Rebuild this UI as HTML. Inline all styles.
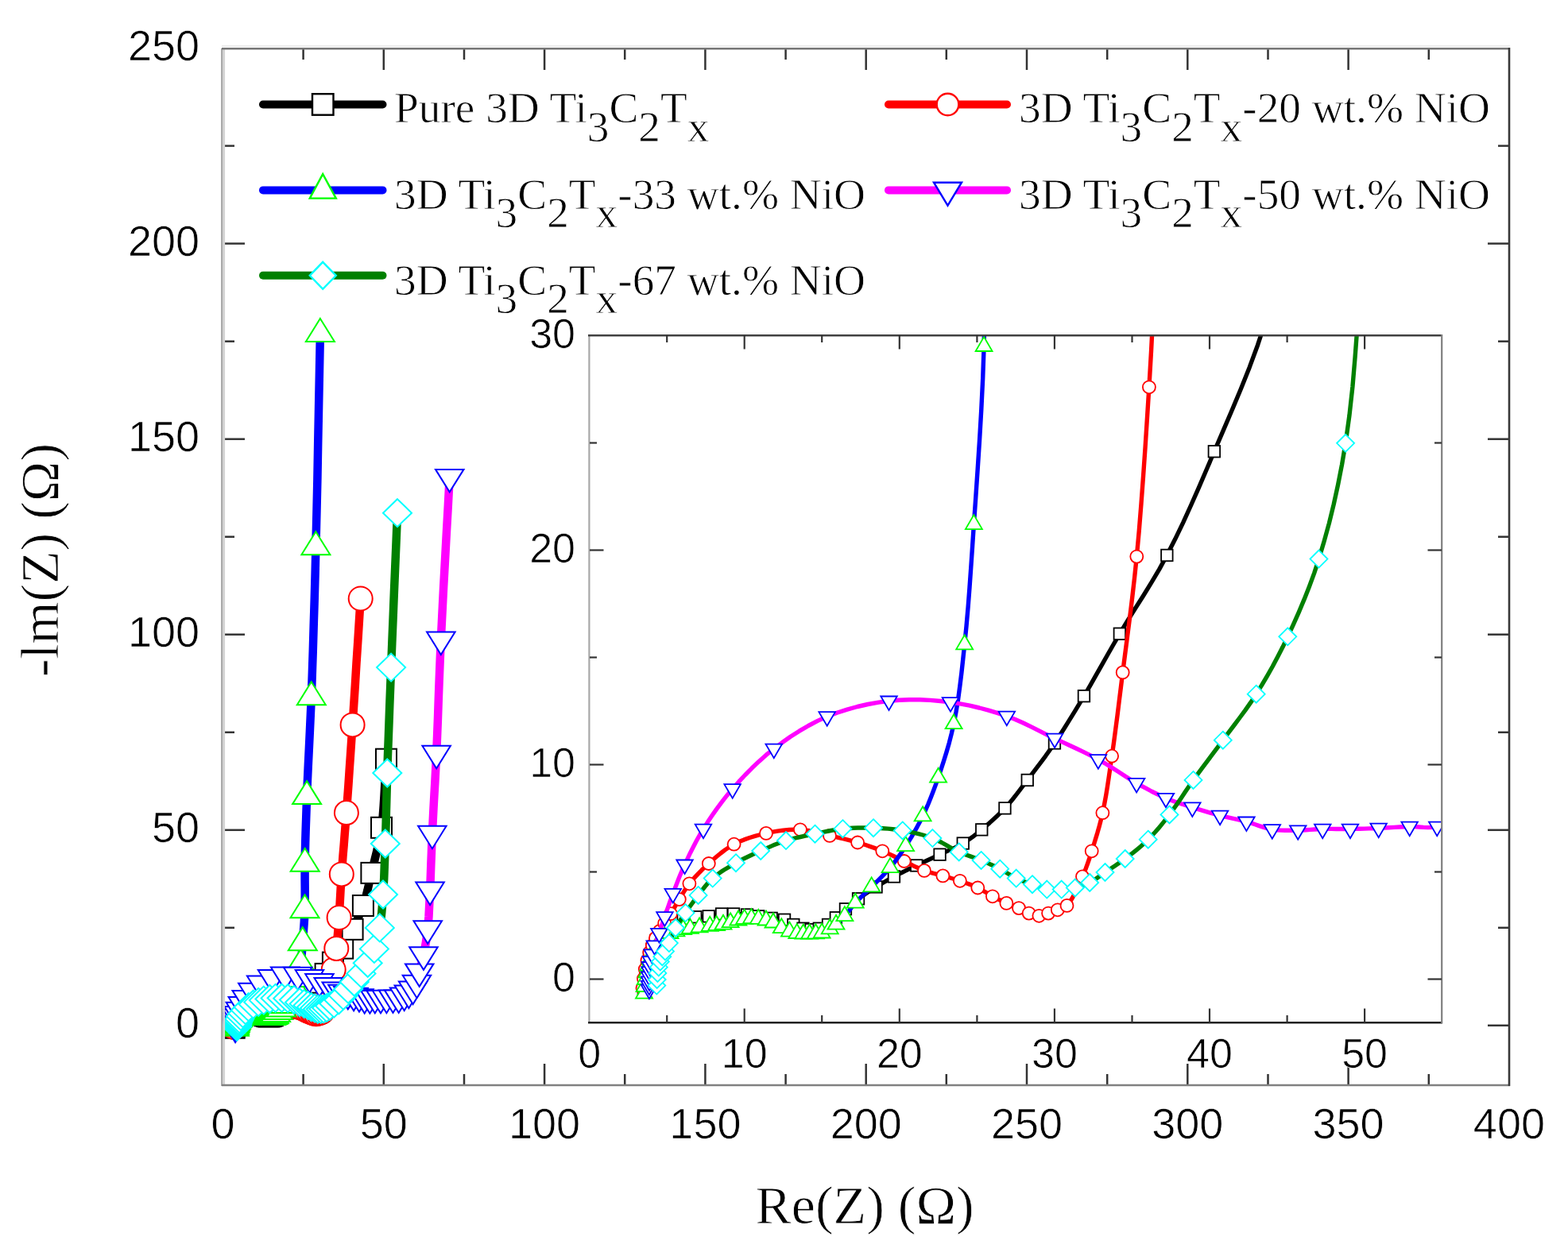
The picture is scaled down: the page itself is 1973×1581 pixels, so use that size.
<!DOCTYPE html>
<html><head><meta charset="utf-8"><title>Nyquist plot</title>
<style>html,body{margin:0;padding:0;background:#fff;}svg{display:block;}
text.s{font-family:"Liberation Sans",Arial,sans-serif;fill:#000;stroke:#fff;stroke-width:0.7px;}
text.r{font-family:"Liberation Serif","Times New Roman",serif;fill:#000;stroke:#fff;stroke-width:0.8px;}</style>
</head><body>
<svg width="1973" height="1581" viewBox="0 0 1973 1581">
<rect width="1973" height="1581" fill="#fff"/>
<defs><clipPath id="cm"><rect x="280.5" y="61.0" width="1618.5" height="1305.0"/></clipPath>
<clipPath id="ci"><rect x="741.4" y="422.2" width="1072.6" height="865.0"/></clipPath></defs>
<line x1="381.6" y1="1366" x2="381.6" y2="1352" stroke="#333" stroke-width="2.5"/>
<line x1="381.6" y1="61" x2="381.6" y2="75" stroke="#333" stroke-width="2.5"/>
<line x1="482.8" y1="1366" x2="482.8" y2="1339" stroke="#333" stroke-width="2.5"/>
<line x1="482.8" y1="61" x2="482.8" y2="88" stroke="#333" stroke-width="2.5"/>
<line x1="584" y1="1366" x2="584" y2="1352" stroke="#333" stroke-width="2.5"/>
<line x1="584" y1="61" x2="584" y2="75" stroke="#333" stroke-width="2.5"/>
<line x1="685.1" y1="1366" x2="685.1" y2="1339" stroke="#333" stroke-width="2.5"/>
<line x1="685.1" y1="61" x2="685.1" y2="88" stroke="#333" stroke-width="2.5"/>
<line x1="786.2" y1="1366" x2="786.2" y2="1352" stroke="#333" stroke-width="2.5"/>
<line x1="786.2" y1="61" x2="786.2" y2="75" stroke="#333" stroke-width="2.5"/>
<line x1="887.4" y1="1366" x2="887.4" y2="1339" stroke="#333" stroke-width="2.5"/>
<line x1="887.4" y1="61" x2="887.4" y2="88" stroke="#333" stroke-width="2.5"/>
<line x1="988.6" y1="1366" x2="988.6" y2="1352" stroke="#333" stroke-width="2.5"/>
<line x1="988.6" y1="61" x2="988.6" y2="75" stroke="#333" stroke-width="2.5"/>
<line x1="1089.7" y1="1366" x2="1089.7" y2="1339" stroke="#333" stroke-width="2.5"/>
<line x1="1089.7" y1="61" x2="1089.7" y2="88" stroke="#333" stroke-width="2.5"/>
<line x1="1190.8" y1="1366" x2="1190.8" y2="1352" stroke="#333" stroke-width="2.5"/>
<line x1="1190.8" y1="61" x2="1190.8" y2="75" stroke="#333" stroke-width="2.5"/>
<line x1="1292" y1="1366" x2="1292" y2="1339" stroke="#333" stroke-width="2.5"/>
<line x1="1292" y1="61" x2="1292" y2="88" stroke="#333" stroke-width="2.5"/>
<line x1="1393.2" y1="1366" x2="1393.2" y2="1352" stroke="#333" stroke-width="2.5"/>
<line x1="1393.2" y1="61" x2="1393.2" y2="75" stroke="#333" stroke-width="2.5"/>
<line x1="1494.3" y1="1366" x2="1494.3" y2="1339" stroke="#333" stroke-width="2.5"/>
<line x1="1494.3" y1="61" x2="1494.3" y2="88" stroke="#333" stroke-width="2.5"/>
<line x1="1595.5" y1="1366" x2="1595.5" y2="1352" stroke="#333" stroke-width="2.5"/>
<line x1="1595.5" y1="61" x2="1595.5" y2="75" stroke="#333" stroke-width="2.5"/>
<line x1="1696.6" y1="1366" x2="1696.6" y2="1339" stroke="#333" stroke-width="2.5"/>
<line x1="1696.6" y1="61" x2="1696.6" y2="88" stroke="#333" stroke-width="2.5"/>
<line x1="1797.8" y1="1366" x2="1797.8" y2="1352" stroke="#333" stroke-width="2.5"/>
<line x1="1797.8" y1="61" x2="1797.8" y2="75" stroke="#333" stroke-width="2.5"/>
<line x1="281" y1="1290.8" x2="308" y2="1290.8" stroke="#333" stroke-width="2.5"/>
<line x1="1899" y1="1290.8" x2="1872" y2="1290.8" stroke="#333" stroke-width="2.5"/>
<line x1="281" y1="1167.8" x2="295" y2="1167.8" stroke="#333" stroke-width="2.5"/>
<line x1="1899" y1="1167.8" x2="1885" y2="1167.8" stroke="#333" stroke-width="2.5"/>
<line x1="281" y1="1044.8" x2="308" y2="1044.8" stroke="#333" stroke-width="2.5"/>
<line x1="1899" y1="1044.8" x2="1872" y2="1044.8" stroke="#333" stroke-width="2.5"/>
<line x1="281" y1="921.8" x2="295" y2="921.8" stroke="#333" stroke-width="2.5"/>
<line x1="1899" y1="921.8" x2="1885" y2="921.8" stroke="#333" stroke-width="2.5"/>
<line x1="281" y1="798.7" x2="308" y2="798.7" stroke="#333" stroke-width="2.5"/>
<line x1="1899" y1="798.7" x2="1872" y2="798.7" stroke="#333" stroke-width="2.5"/>
<line x1="281" y1="675.7" x2="295" y2="675.7" stroke="#333" stroke-width="2.5"/>
<line x1="1899" y1="675.7" x2="1885" y2="675.7" stroke="#333" stroke-width="2.5"/>
<line x1="281" y1="552.7" x2="308" y2="552.7" stroke="#333" stroke-width="2.5"/>
<line x1="1899" y1="552.7" x2="1872" y2="552.7" stroke="#333" stroke-width="2.5"/>
<line x1="281" y1="429.7" x2="295" y2="429.7" stroke="#333" stroke-width="2.5"/>
<line x1="1899" y1="429.7" x2="1885" y2="429.7" stroke="#333" stroke-width="2.5"/>
<line x1="281" y1="306.6" x2="308" y2="306.6" stroke="#333" stroke-width="2.5"/>
<line x1="1899" y1="306.6" x2="1872" y2="306.6" stroke="#333" stroke-width="2.5"/>
<line x1="281" y1="183.6" x2="295" y2="183.6" stroke="#333" stroke-width="2.5"/>
<line x1="1899" y1="183.6" x2="1885" y2="183.6" stroke="#333" stroke-width="2.5"/>
<g clip-path="url(#cm)">
<path d="M294.7 1293.8 L294.9 1291.8 L295.1 1289.9 L295.6 1287.9 L296.1 1285.9 L296.9 1284 L297.9 1282 L299.2 1280.3 L300.7 1278.8 L302.8 1277.7 L305 1277 L308.2 1276.6 L311.6 1276.4 L315 1275.9 L318.1 1275.9 L321.6 1276.1 L324.6 1276.4 L328 1276.9 L331.4 1277.2 L333.7 1278.4 L336.3 1279.2 L338.4 1279.5 L340.5 1279.2 L342.8 1278.4 L344.8 1276.8 L347.3 1274.8 L350.7 1272.4 L355.4 1269.7 L360 1267.3 L362.9 1266 L365.9 1264.8 L368.9 1263.5 L371.9 1262.3 L375 1261 L378 1259.7 L382.9 1256.6 L385.9 1254.2 L388.9 1251.6 L391.9 1248.5 L394.8 1245.2 L397.1 1242.5 L399.5 1239.7 L401.9 1236.7 L403.8 1234.2 L405.7 1231.5 L407.6 1228.8 L409.6 1225.9 L411.4 1223.2 L413.2 1220.4 L415 1217.5 L416.9 1214.6 L418.9 1211.6 L420.8 1208.8 L422.9 1205.9 L425 1202.9 L427.1 1199.9 L429.2 1196.8 L431.2 1193.6 L433.4 1189.9 L435.4 1186.1 L437.5 1182.1 L439.5 1178.1 L441.5 1174 L443.6 1169.8 L445.8 1165.1 L448.2 1160.4 L450.5 1155.5 L452.8 1150.5 L454.9 1145.4 L456.9 1140 L458.9 1133.7 L460.8 1127.1 L462.5 1120.4 L464.1 1113.4 L465.7 1106.3 L467.4 1098.9 L469.6 1090.1 L471.8 1081.1 L474.1 1071.8 L476.3 1062.2 L478.3 1052.2 L480 1041.8 L481.6 1028.6 L482.7 1014.5 L483.6 999.9 L484.4 985.1 L485.1 970.3 L486 955.7" fill="none" stroke="#000000" stroke-width="10.5" stroke-linejoin="round" stroke-linecap="round"/>
<rect x="281.7" y="1280.8" width="26" height="26" fill="#fff" stroke="#000000" stroke-width="2.0"/>
<rect x="281.9" y="1278.8" width="26" height="26" fill="#fff" stroke="#000000" stroke-width="2.0"/>
<rect x="282.1" y="1276.9" width="26" height="26" fill="#fff" stroke="#000000" stroke-width="2.0"/>
<rect x="282.6" y="1274.9" width="26" height="26" fill="#fff" stroke="#000000" stroke-width="2.0"/>
<rect x="283.1" y="1272.9" width="26" height="26" fill="#fff" stroke="#000000" stroke-width="2.0"/>
<rect x="283.9" y="1271" width="26" height="26" fill="#fff" stroke="#000000" stroke-width="2.0"/>
<rect x="284.9" y="1269" width="26" height="26" fill="#fff" stroke="#000000" stroke-width="2.0"/>
<rect x="286.2" y="1267.3" width="26" height="26" fill="#fff" stroke="#000000" stroke-width="2.0"/>
<rect x="287.7" y="1265.8" width="26" height="26" fill="#fff" stroke="#000000" stroke-width="2.0"/>
<rect x="289.8" y="1264.7" width="26" height="26" fill="#fff" stroke="#000000" stroke-width="2.0"/>
<rect x="292" y="1264" width="26" height="26" fill="#fff" stroke="#000000" stroke-width="2.0"/>
<rect x="295.2" y="1263.6" width="26" height="26" fill="#fff" stroke="#000000" stroke-width="2.0"/>
<rect x="298.6" y="1263.4" width="26" height="26" fill="#fff" stroke="#000000" stroke-width="2.0"/>
<rect x="302" y="1262.9" width="26" height="26" fill="#fff" stroke="#000000" stroke-width="2.0"/>
<rect x="305.1" y="1262.9" width="26" height="26" fill="#fff" stroke="#000000" stroke-width="2.0"/>
<rect x="308.6" y="1263.1" width="26" height="26" fill="#fff" stroke="#000000" stroke-width="2.0"/>
<rect x="311.6" y="1263.4" width="26" height="26" fill="#fff" stroke="#000000" stroke-width="2.0"/>
<rect x="315" y="1263.9" width="26" height="26" fill="#fff" stroke="#000000" stroke-width="2.0"/>
<rect x="318.4" y="1264.2" width="26" height="26" fill="#fff" stroke="#000000" stroke-width="2.0"/>
<rect x="320.7" y="1265.4" width="26" height="26" fill="#fff" stroke="#000000" stroke-width="2.0"/>
<rect x="323.3" y="1266.2" width="26" height="26" fill="#fff" stroke="#000000" stroke-width="2.0"/>
<rect x="325.4" y="1266.5" width="26" height="26" fill="#fff" stroke="#000000" stroke-width="2.0"/>
<rect x="327.5" y="1266.2" width="26" height="26" fill="#fff" stroke="#000000" stroke-width="2.0"/>
<rect x="329.8" y="1265.4" width="26" height="26" fill="#fff" stroke="#000000" stroke-width="2.0"/>
<rect x="331.8" y="1263.8" width="26" height="26" fill="#fff" stroke="#000000" stroke-width="2.0"/>
<rect x="334.3" y="1261.8" width="26" height="26" fill="#fff" stroke="#000000" stroke-width="2.0"/>
<rect x="337.7" y="1259.4" width="26" height="26" fill="#fff" stroke="#000000" stroke-width="2.0"/>
<rect x="342.4" y="1256.7" width="26" height="26" fill="#fff" stroke="#000000" stroke-width="2.0"/>
<rect x="347" y="1254.3" width="26" height="26" fill="#fff" stroke="#000000" stroke-width="2.0"/>
<rect x="352.9" y="1251.8" width="26" height="26" fill="#fff" stroke="#000000" stroke-width="2.0"/>
<rect x="358.9" y="1249.3" width="26" height="26" fill="#fff" stroke="#000000" stroke-width="2.0"/>
<rect x="365" y="1246.7" width="26" height="26" fill="#fff" stroke="#000000" stroke-width="2.0"/>
<rect x="369.9" y="1243.6" width="26" height="26" fill="#fff" stroke="#000000" stroke-width="2.0"/>
<rect x="375.9" y="1238.6" width="26" height="26" fill="#fff" stroke="#000000" stroke-width="2.0"/>
<rect x="381.8" y="1232.2" width="26" height="26" fill="#fff" stroke="#000000" stroke-width="2.0"/>
<rect x="388.9" y="1223.7" width="26" height="26" fill="#fff" stroke="#000000" stroke-width="2.0"/>
<rect x="396.6" y="1212.9" width="26" height="26" fill="#fff" stroke="#000000" stroke-width="2.0"/>
<rect x="405.9" y="1198.6" width="26" height="26" fill="#fff" stroke="#000000" stroke-width="2.0"/>
<rect x="418.2" y="1180.6" width="26" height="26" fill="#fff" stroke="#000000" stroke-width="2.0"/>
<rect x="430.6" y="1156.8" width="26" height="26" fill="#fff" stroke="#000000" stroke-width="2.0"/>
<rect x="443.9" y="1127" width="26" height="26" fill="#fff" stroke="#000000" stroke-width="2.0"/>
<rect x="454.4" y="1085.9" width="26" height="26" fill="#fff" stroke="#000000" stroke-width="2.0"/>
<rect x="467" y="1028.8" width="26" height="26" fill="#fff" stroke="#000000" stroke-width="2.0"/>
<rect x="473" y="942.7" width="26" height="26" fill="#fff" stroke="#000000" stroke-width="2.0"/>
<path d="M294.4 1293 L294.7 1290.8 L295.1 1288.6 L295.6 1286.6 L296.2 1284.7 L296.9 1283.1 L297.8 1281.5 L298.8 1279.8 L300.1 1278.1 L301.7 1275.8 L304 1272.5 L306.6 1269 L308.9 1266.6 L311.7 1264.3 L314.8 1262 L318.2 1259.9 L322.3 1258.4 L326.6 1257.4 L331.1 1256.7 L335.5 1256.6 L339.4 1257.1 L343.2 1257.9 L346.9 1258.7 L350.5 1259.5 L353.8 1260.4 L357 1261.5 L359.8 1262.6 L362.6 1263.8 L367.9 1265.9 L372.7 1267.1 L377.2 1268.3 L381.9 1269.9 L385.7 1271.9 L389.3 1273.4 L392.6 1274.6 L395.2 1275.7 L397.8 1276.3 L400.3 1275.7 L402.7 1275 L405.1 1274 L407.2 1271 L409.2 1267.3 L410.5 1264.5 L411.6 1261.5 L412.6 1258.8 L413.5 1255.8 L414.4 1252.7 L415.1 1249.7 L415.7 1246.5 L416.3 1243.2 L416.9 1239.7 L417.3 1236.7 L417.8 1233.7 L418.3 1230.5 L418.7 1227.2 L419.2 1223.9 L419.7 1220.5 L420.3 1216.4 L420.9 1212.1 L421.5 1207.8 L422.2 1203.3 L422.8 1198.7 L423.3 1193.9 L423.9 1187.9 L424.5 1181.7 L425 1175.3 L425.6 1168.8 L426.1 1162 L426.6 1155 L427.1 1146.6 L427.6 1137.9 L428.1 1128.9 L428.6 1119.7 L429.2 1110.2 L429.8 1100.4 L430.7 1088.5 L431.6 1076.2 L432.7 1063.5 L433.7 1050.4 L434.8 1037 L435.9 1023.1 L437.1 1006.1 L438.4 988.5 L439.6 970.3 L440.9 951.6 L442.2 932.3 L443.6 912.4 L445.2 887.6 L446.9 861.6 L448.5 834.7 L450.3 807.5 L452 780.3 L453.7 753.5" fill="none" stroke="#ff0000" stroke-width="10.5" stroke-linejoin="round" stroke-linecap="round"/>
<circle cx="294.4" cy="1293" r="15" fill="#fff" stroke="#ff0000" stroke-width="2.0"/>
<circle cx="294.7" cy="1290.8" r="15" fill="#fff" stroke="#ff0000" stroke-width="2.0"/>
<circle cx="295.1" cy="1288.6" r="15" fill="#fff" stroke="#ff0000" stroke-width="2.0"/>
<circle cx="295.6" cy="1286.6" r="15" fill="#fff" stroke="#ff0000" stroke-width="2.0"/>
<circle cx="296.2" cy="1284.7" r="15" fill="#fff" stroke="#ff0000" stroke-width="2.0"/>
<circle cx="296.9" cy="1283.1" r="15" fill="#fff" stroke="#ff0000" stroke-width="2.0"/>
<circle cx="297.8" cy="1281.5" r="15" fill="#fff" stroke="#ff0000" stroke-width="2.0"/>
<circle cx="298.8" cy="1279.8" r="15" fill="#fff" stroke="#ff0000" stroke-width="2.0"/>
<circle cx="300.1" cy="1278.1" r="15" fill="#fff" stroke="#ff0000" stroke-width="2.0"/>
<circle cx="301.7" cy="1275.8" r="15" fill="#fff" stroke="#ff0000" stroke-width="2.0"/>
<circle cx="304" cy="1272.5" r="15" fill="#fff" stroke="#ff0000" stroke-width="2.0"/>
<circle cx="306.6" cy="1269" r="15" fill="#fff" stroke="#ff0000" stroke-width="2.0"/>
<circle cx="311.7" cy="1264.3" r="15" fill="#fff" stroke="#ff0000" stroke-width="2.0"/>
<circle cx="318.2" cy="1259.9" r="15" fill="#fff" stroke="#ff0000" stroke-width="2.0"/>
<circle cx="326.6" cy="1257.4" r="15" fill="#fff" stroke="#ff0000" stroke-width="2.0"/>
<circle cx="335.5" cy="1256.6" r="15" fill="#fff" stroke="#ff0000" stroke-width="2.0"/>
<circle cx="343.2" cy="1257.9" r="15" fill="#fff" stroke="#ff0000" stroke-width="2.0"/>
<circle cx="350.5" cy="1259.5" r="15" fill="#fff" stroke="#ff0000" stroke-width="2.0"/>
<circle cx="357" cy="1261.5" r="15" fill="#fff" stroke="#ff0000" stroke-width="2.0"/>
<circle cx="362.6" cy="1263.8" r="15" fill="#fff" stroke="#ff0000" stroke-width="2.0"/>
<circle cx="367.9" cy="1265.9" r="15" fill="#fff" stroke="#ff0000" stroke-width="2.0"/>
<circle cx="372.7" cy="1267.1" r="15" fill="#fff" stroke="#ff0000" stroke-width="2.0"/>
<circle cx="377.2" cy="1268.3" r="15" fill="#fff" stroke="#ff0000" stroke-width="2.0"/>
<circle cx="381.9" cy="1269.9" r="15" fill="#fff" stroke="#ff0000" stroke-width="2.0"/>
<circle cx="385.7" cy="1271.9" r="15" fill="#fff" stroke="#ff0000" stroke-width="2.0"/>
<circle cx="389.3" cy="1273.4" r="15" fill="#fff" stroke="#ff0000" stroke-width="2.0"/>
<circle cx="392.6" cy="1274.6" r="15" fill="#fff" stroke="#ff0000" stroke-width="2.0"/>
<circle cx="395.2" cy="1275.7" r="15" fill="#fff" stroke="#ff0000" stroke-width="2.0"/>
<circle cx="397.8" cy="1276.3" r="15" fill="#fff" stroke="#ff0000" stroke-width="2.0"/>
<circle cx="400.3" cy="1275.7" r="15" fill="#fff" stroke="#ff0000" stroke-width="2.0"/>
<circle cx="402.7" cy="1275" r="15" fill="#fff" stroke="#ff0000" stroke-width="2.0"/>
<circle cx="405.1" cy="1274" r="15" fill="#fff" stroke="#ff0000" stroke-width="2.0"/>
<circle cx="409.2" cy="1267.3" r="15" fill="#fff" stroke="#ff0000" stroke-width="2.0"/>
<circle cx="411.6" cy="1261.5" r="15" fill="#fff" stroke="#ff0000" stroke-width="2.0"/>
<circle cx="414.4" cy="1252.7" r="15" fill="#fff" stroke="#ff0000" stroke-width="2.0"/>
<circle cx="416.9" cy="1239.7" r="15" fill="#fff" stroke="#ff0000" stroke-width="2.0"/>
<circle cx="419.7" cy="1220.5" r="15" fill="#fff" stroke="#ff0000" stroke-width="2.0"/>
<circle cx="423.3" cy="1193.9" r="15" fill="#fff" stroke="#ff0000" stroke-width="2.0"/>
<circle cx="426.6" cy="1155" r="15" fill="#fff" stroke="#ff0000" stroke-width="2.0"/>
<circle cx="429.8" cy="1100.4" r="15" fill="#fff" stroke="#ff0000" stroke-width="2.0"/>
<circle cx="435.9" cy="1023.1" r="15" fill="#fff" stroke="#ff0000" stroke-width="2.0"/>
<circle cx="443.6" cy="912.4" r="15" fill="#fff" stroke="#ff0000" stroke-width="2.0"/>
<circle cx="453.7" cy="753.5" r="15" fill="#fff" stroke="#ff0000" stroke-width="2.0"/>
<path d="M294.8 1294.1 L294.9 1292.6 L295.1 1290.9 L295.5 1289.4 L295.9 1287.8 L296.4 1286.3 L297.1 1284.8 L297.9 1283.5 L298.9 1282.2 L300.1 1281.2 L301.5 1280.4 L303.2 1279.9 L305 1279.5 L306.8 1279.2 L309.2 1279 L311.9 1278.7 L313.7 1278.5 L315.4 1278.3 L317.3 1277.9 L319.3 1277.4 L321 1277.1 L322.8 1276.9 L324.6 1277.1 L326.6 1277.4 L328.5 1277.9 L330.6 1279.1 L332.7 1279.9 L334.7 1280.4 L336.3 1280.5 L338 1280.5 L339.6 1280.4 L341.1 1280.3 L343.3 1279.3 L344.9 1278.3 L347.1 1276.4 L349.9 1273.4 L354.1 1269.7 L356.6 1267.5 L359 1265.3 L361.1 1262.9 L363 1260.3 L365.3 1257.1 L367.5 1253.5 L368.9 1250.7 L370.3 1247.7 L371.5 1244.6 L372.6 1241.7 L373.7 1238.7 L374.7 1235.6 L375.6 1232.3 L376.2 1229.5 L376.7 1226.6 L377.2 1223.7 L377.6 1220.6 L378 1217.4 L378.4 1214.1 L378.9 1209.9 L379.3 1205.5 L379.7 1201 L380.1 1196.3 L380.5 1191.5 L380.8 1186.5 L381.3 1180.3 L381.8 1173.8 L382.3 1167.1 L382.8 1160.1 L383.2 1153 L383.5 1145.7 L383.7 1136.7 L383.7 1127.3 L383.7 1117.7 L383.6 1107.8 L383.6 1097.6 L383.7 1087.1 L383.9 1074.1 L384.2 1060.7 L384.6 1046.8 L385.1 1032.5 L385.6 1017.7 L386.1 1002.5 L386.9 983.3 L387.8 963.6 L388.8 943.1 L389.8 922 L390.8 900.1 L391.8 877.5 L392.8 848.6 L393.8 818.6 L394.7 787.5 L395.7 755.4 L396.6 722.4 L397.4 688.5 L398.4 646.5 L399.4 602.6 L400.2 557.4 L401.1 511.5 L402 465.6 L402.9 420.3" fill="none" stroke="#0000ff" stroke-width="10.5" stroke-linejoin="round" stroke-linecap="round"/>
<path d="M294.8 1274.8L312.8 1303.8L276.8 1303.8Z" fill="#fff" stroke="#00ff00" stroke-width="2.0"/>
<path d="M294.9 1273.2L312.9 1302.2L276.9 1302.2Z" fill="#fff" stroke="#00ff00" stroke-width="2.0"/>
<path d="M295.1 1271.6L313.1 1300.6L277.1 1300.6Z" fill="#fff" stroke="#00ff00" stroke-width="2.0"/>
<path d="M295.5 1270L313.5 1299L277.5 1299Z" fill="#fff" stroke="#00ff00" stroke-width="2.0"/>
<path d="M295.9 1268.5L313.9 1297.5L277.9 1297.5Z" fill="#fff" stroke="#00ff00" stroke-width="2.0"/>
<path d="M296.4 1267L314.4 1296L278.4 1296Z" fill="#fff" stroke="#00ff00" stroke-width="2.0"/>
<path d="M297.1 1265.5L315.1 1294.5L279.1 1294.5Z" fill="#fff" stroke="#00ff00" stroke-width="2.0"/>
<path d="M297.9 1264.1L315.9 1293.1L279.9 1293.1Z" fill="#fff" stroke="#00ff00" stroke-width="2.0"/>
<path d="M298.9 1262.9L316.9 1291.9L280.9 1291.9Z" fill="#fff" stroke="#00ff00" stroke-width="2.0"/>
<path d="M300.1 1261.8L318.1 1290.8L282.1 1290.8Z" fill="#fff" stroke="#00ff00" stroke-width="2.0"/>
<path d="M301.5 1261L319.5 1290L283.5 1290Z" fill="#fff" stroke="#00ff00" stroke-width="2.0"/>
<path d="M303.2 1260.5L321.2 1289.5L285.2 1289.5Z" fill="#fff" stroke="#00ff00" stroke-width="2.0"/>
<path d="M305 1260.1L323 1289.1L287 1289.1Z" fill="#fff" stroke="#00ff00" stroke-width="2.0"/>
<path d="M306.8 1259.9L324.8 1288.9L288.8 1288.9Z" fill="#fff" stroke="#00ff00" stroke-width="2.0"/>
<path d="M309.2 1259.7L327.2 1288.7L291.2 1288.7Z" fill="#fff" stroke="#00ff00" stroke-width="2.0"/>
<path d="M311.9 1259.4L329.9 1288.4L293.9 1288.4Z" fill="#fff" stroke="#00ff00" stroke-width="2.0"/>
<path d="M313.7 1259.2L331.7 1288.2L295.7 1288.2Z" fill="#fff" stroke="#00ff00" stroke-width="2.0"/>
<path d="M315.4 1259L333.4 1288L297.4 1288Z" fill="#fff" stroke="#00ff00" stroke-width="2.0"/>
<path d="M317.3 1258.5L335.3 1287.5L299.3 1287.5Z" fill="#fff" stroke="#00ff00" stroke-width="2.0"/>
<path d="M319.3 1258L337.3 1287L301.3 1287Z" fill="#fff" stroke="#00ff00" stroke-width="2.0"/>
<path d="M321 1257.7L339 1286.7L303 1286.7Z" fill="#fff" stroke="#00ff00" stroke-width="2.0"/>
<path d="M322.8 1257.6L340.8 1286.6L304.8 1286.6Z" fill="#fff" stroke="#00ff00" stroke-width="2.0"/>
<path d="M324.6 1257.7L342.6 1286.7L306.6 1286.7Z" fill="#fff" stroke="#00ff00" stroke-width="2.0"/>
<path d="M326.6 1258L344.6 1287L308.6 1287Z" fill="#fff" stroke="#00ff00" stroke-width="2.0"/>
<path d="M328.5 1258.6L346.5 1287.6L310.5 1287.6Z" fill="#fff" stroke="#00ff00" stroke-width="2.0"/>
<path d="M330.6 1259.8L348.6 1288.8L312.6 1288.8Z" fill="#fff" stroke="#00ff00" stroke-width="2.0"/>
<path d="M332.7 1260.6L350.7 1289.6L314.7 1289.6Z" fill="#fff" stroke="#00ff00" stroke-width="2.0"/>
<path d="M334.7 1261L352.7 1290L316.7 1290Z" fill="#fff" stroke="#00ff00" stroke-width="2.0"/>
<path d="M336.3 1261.1L354.3 1290.1L318.3 1290.1Z" fill="#fff" stroke="#00ff00" stroke-width="2.0"/>
<path d="M338 1261.1L356 1290.1L320 1290.1Z" fill="#fff" stroke="#00ff00" stroke-width="2.0"/>
<path d="M339.6 1261.1L357.6 1290.1L321.6 1290.1Z" fill="#fff" stroke="#00ff00" stroke-width="2.0"/>
<path d="M341.1 1260.9L359.1 1289.9L323.1 1289.9Z" fill="#fff" stroke="#00ff00" stroke-width="2.0"/>
<path d="M343.3 1260L361.3 1289L325.3 1289Z" fill="#fff" stroke="#00ff00" stroke-width="2.0"/>
<path d="M344.9 1259L362.9 1288L326.9 1288Z" fill="#fff" stroke="#00ff00" stroke-width="2.0"/>
<path d="M347.1 1257L365.1 1286L329.1 1286Z" fill="#fff" stroke="#00ff00" stroke-width="2.0"/>
<path d="M349.9 1254L367.9 1283L331.9 1283Z" fill="#fff" stroke="#00ff00" stroke-width="2.0"/>
<path d="M354.1 1250.4L372.1 1279.4L336.1 1279.4Z" fill="#fff" stroke="#00ff00" stroke-width="2.0"/>
<path d="M359 1245.9L377 1274.9L341 1274.9Z" fill="#fff" stroke="#00ff00" stroke-width="2.0"/>
<path d="M363 1241L381 1270L345 1270Z" fill="#fff" stroke="#00ff00" stroke-width="2.0"/>
<path d="M367.5 1234.1L385.5 1263.1L349.5 1263.1Z" fill="#fff" stroke="#00ff00" stroke-width="2.0"/>
<path d="M371.5 1225.3L389.5 1254.3L353.5 1254.3Z" fill="#fff" stroke="#00ff00" stroke-width="2.0"/>
<path d="M375.6 1213L393.6 1242L357.6 1242Z" fill="#fff" stroke="#00ff00" stroke-width="2.0"/>
<path d="M378.4 1194.7L396.4 1223.7L360.4 1223.7Z" fill="#fff" stroke="#00ff00" stroke-width="2.0"/>
<path d="M380.8 1167.2L398.8 1196.2L362.8 1196.2Z" fill="#fff" stroke="#00ff00" stroke-width="2.0"/>
<path d="M383.5 1126.3L401.5 1155.3L365.5 1155.3Z" fill="#fff" stroke="#00ff00" stroke-width="2.0"/>
<path d="M383.7 1067.8L401.7 1096.8L365.7 1096.8Z" fill="#fff" stroke="#00ff00" stroke-width="2.0"/>
<path d="M386.1 983.1L404.1 1012.1L368.1 1012.1Z" fill="#fff" stroke="#00ff00" stroke-width="2.0"/>
<path d="M391.8 858.2L409.8 887.2L373.8 887.2Z" fill="#fff" stroke="#00ff00" stroke-width="2.0"/>
<path d="M397.4 669.2L415.4 698.2L379.4 698.2Z" fill="#fff" stroke="#00ff00" stroke-width="2.0"/>
<path d="M402.9 401L420.9 430L384.9 430Z" fill="#fff" stroke="#00ff00" stroke-width="2.0"/>
<path d="M296.1 1293.2 L296.1 1292.3 L296.2 1291.3 L296.2 1290.3 L296.3 1289.1 L296.4 1288 L296.5 1286.7 L296.9 1285.1 L297.5 1283.1 L298.7 1280.3 L300.2 1276.5 L302.3 1271.2 L303.7 1268 L305.4 1264.6 L306.8 1261.9 L308.4 1259.2 L310.2 1256.4 L312.5 1253.3 L315.1 1250.2 L317.8 1247.2 L320.3 1244.8 L322.9 1242.4 L325.7 1240.1 L328.6 1238 L331.2 1236.3 L333.9 1234.7 L336.7 1233.2 L339.6 1231.8 L342.5 1230.6 L345.6 1229.6 L348.8 1228.7 L352.1 1228 L355.4 1227.4 L358.7 1227 L361.9 1226.8 L365.1 1226.7 L368.4 1226.8 L371.6 1227 L374.7 1227.3 L377.7 1227.7 L380.7 1228.3 L383.7 1228.9 L386.6 1229.7 L389.4 1230.5 L392.7 1231.7 L395.8 1233 L398.9 1234.3 L401.9 1235.6 L404.8 1236.8 L407.7 1238 L410.5 1239.2 L413.3 1240.5 L416.7 1242.3 L420.1 1244.2 L423.3 1245.9 L427.2 1247.7 L430.9 1249.3 L434.4 1250.5 L437.8 1251.4 L441.4 1252.4 L445.1 1253.3 L448.5 1254 L452 1254.7 L455.3 1255.7 L458.7 1256.5 L462 1256.7 L465.4 1256.7 L468.6 1256.6 L471.8 1256.4 L475.4 1256.4 L479 1256.4 L482.7 1256.3 L486.4 1256.2 L490.5 1256 L494.5 1255.9 L498.2 1256 L501.7 1255.9 L505.3 1254.6 L508.7 1253 L511.6 1251.6 L514.4 1250 L517.1 1247.8 L519.6 1245.1 L521.4 1242.8 L523 1240.2 L524.5 1237.2 L525.5 1234.1 L526.2 1230.6 L526.9 1226.8 L527.7 1222.9 L528.5 1219.7 L529.4 1216.4 L530.3 1212.9 L531.2 1209.3 L532.1 1205.6 L533 1201.8 L534 1196.8 L534.9 1191.6 L535.9 1186.2 L536.7 1180.6 L537.5 1174.8 L538.2 1168.8 L538.9 1161.4 L539.5 1153.6 L539.9 1145.6 L540.3 1137.4 L540.7 1128.9 L541.1 1120.1 L541.6 1109.2 L542 1097.9 L542.4 1086.3 L542.9 1074.3 L543.3 1061.9 L543.9 1049.2 L544.7 1033.6 L545.5 1017.6 L546.4 1001 L547.4 983.9 L548.3 966.4 L549.2 948.3 L550.1 926.2 L551 903.4 L551.8 879.9 L552.7 855.7 L553.7 830.8 L554.8 805.1 L556.4 773.1 L558.1 739.6 L560 705.1 L561.9 670 L563.9 635 L565.7 600.4" fill="none" stroke="#ff00ff" stroke-width="10.5" stroke-linejoin="round" stroke-linecap="round"/>
<path d="M278.4 1283.7L313.9 1283.7L296.1 1312.2Z" fill="#fff" stroke="#0000ff" stroke-width="2.0"/>
<path d="M278.4 1282.8L313.9 1282.8L296.1 1311.3Z" fill="#fff" stroke="#0000ff" stroke-width="2.0"/>
<path d="M278.4 1281.8L313.9 1281.8L296.2 1310.3Z" fill="#fff" stroke="#0000ff" stroke-width="2.0"/>
<path d="M278.4 1280.8L313.9 1280.8L296.2 1309.3Z" fill="#fff" stroke="#0000ff" stroke-width="2.0"/>
<path d="M278.5 1279.6L314 1279.6L296.3 1308.1Z" fill="#fff" stroke="#0000ff" stroke-width="2.0"/>
<path d="M278.6 1278.5L314.1 1278.5L296.4 1307Z" fill="#fff" stroke="#0000ff" stroke-width="2.0"/>
<path d="M278.8 1277.2L314.3 1277.2L296.5 1305.7Z" fill="#fff" stroke="#0000ff" stroke-width="2.0"/>
<path d="M279.1 1275.6L314.6 1275.6L296.9 1304.1Z" fill="#fff" stroke="#0000ff" stroke-width="2.0"/>
<path d="M279.8 1273.6L315.3 1273.6L297.5 1302.1Z" fill="#fff" stroke="#0000ff" stroke-width="2.0"/>
<path d="M281 1270.8L316.5 1270.8L298.7 1299.3Z" fill="#fff" stroke="#0000ff" stroke-width="2.0"/>
<path d="M282.4 1267L317.9 1267L300.2 1295.5Z" fill="#fff" stroke="#0000ff" stroke-width="2.0"/>
<path d="M284.6 1261.7L320.1 1261.7L302.3 1290.2Z" fill="#fff" stroke="#0000ff" stroke-width="2.0"/>
<path d="M287.6 1255.1L323.1 1255.1L305.4 1283.6Z" fill="#fff" stroke="#0000ff" stroke-width="2.0"/>
<path d="M292.5 1246.9L328 1246.9L310.2 1275.4Z" fill="#fff" stroke="#0000ff" stroke-width="2.0"/>
<path d="M300.1 1237.7L335.6 1237.7L317.8 1266.2Z" fill="#fff" stroke="#0000ff" stroke-width="2.0"/>
<path d="M310.9 1228.5L346.4 1228.5L328.6 1257Z" fill="#fff" stroke="#0000ff" stroke-width="2.0"/>
<path d="M324.8 1221.1L360.3 1221.1L342.5 1249.6Z" fill="#fff" stroke="#0000ff" stroke-width="2.0"/>
<path d="M340.9 1217.5L376.4 1217.5L358.7 1246Z" fill="#fff" stroke="#0000ff" stroke-width="2.0"/>
<path d="M357 1217.8L392.5 1217.8L374.7 1246.3Z" fill="#fff" stroke="#0000ff" stroke-width="2.0"/>
<path d="M371.7 1221L407.2 1221L389.4 1249.5Z" fill="#fff" stroke="#0000ff" stroke-width="2.0"/>
<path d="M384.2 1226.1L419.7 1226.1L401.9 1254.6Z" fill="#fff" stroke="#0000ff" stroke-width="2.0"/>
<path d="M395.5 1231L431 1231L413.3 1259.5Z" fill="#fff" stroke="#0000ff" stroke-width="2.0"/>
<path d="M405.5 1236.4L441 1236.4L423.3 1264.9Z" fill="#fff" stroke="#0000ff" stroke-width="2.0"/>
<path d="M413.2 1239.8L448.7 1239.8L430.9 1268.3Z" fill="#fff" stroke="#0000ff" stroke-width="2.0"/>
<path d="M420.1 1241.9L455.6 1241.9L437.8 1270.4Z" fill="#fff" stroke="#0000ff" stroke-width="2.0"/>
<path d="M427.3 1243.8L462.8 1243.8L445.1 1272.3Z" fill="#fff" stroke="#0000ff" stroke-width="2.0"/>
<path d="M434.2 1245.2L469.7 1245.2L452 1273.7Z" fill="#fff" stroke="#0000ff" stroke-width="2.0"/>
<path d="M440.9 1247L476.4 1247L458.7 1275.5Z" fill="#fff" stroke="#0000ff" stroke-width="2.0"/>
<path d="M447.7 1247.2L483.2 1247.2L465.4 1275.7Z" fill="#fff" stroke="#0000ff" stroke-width="2.0"/>
<path d="M454.1 1246.9L489.6 1246.9L471.8 1275.4Z" fill="#fff" stroke="#0000ff" stroke-width="2.0"/>
<path d="M461.3 1246.9L496.8 1246.9L479 1275.4Z" fill="#fff" stroke="#0000ff" stroke-width="2.0"/>
<path d="M468.7 1246.7L504.2 1246.7L486.4 1275.2Z" fill="#fff" stroke="#0000ff" stroke-width="2.0"/>
<path d="M476.8 1246.4L512.3 1246.4L494.5 1274.9Z" fill="#fff" stroke="#0000ff" stroke-width="2.0"/>
<path d="M483.9 1246.4L519.4 1246.4L501.7 1274.9Z" fill="#fff" stroke="#0000ff" stroke-width="2.0"/>
<path d="M490.9 1243.5L526.4 1243.5L508.7 1272Z" fill="#fff" stroke="#0000ff" stroke-width="2.0"/>
<path d="M496.6 1240.5L532.1 1240.5L514.4 1269Z" fill="#fff" stroke="#0000ff" stroke-width="2.0"/>
<path d="M501.9 1235.6L537.4 1235.6L519.6 1264.1Z" fill="#fff" stroke="#0000ff" stroke-width="2.0"/>
<path d="M506.7 1227.7L542.2 1227.7L524.5 1256.2Z" fill="#fff" stroke="#0000ff" stroke-width="2.0"/>
<path d="M510 1213.4L545.5 1213.4L527.7 1241.9Z" fill="#fff" stroke="#0000ff" stroke-width="2.0"/>
<path d="M515.2 1192.3L550.7 1192.3L533 1220.8Z" fill="#fff" stroke="#0000ff" stroke-width="2.0"/>
<path d="M520.5 1159.3L556 1159.3L538.2 1187.8Z" fill="#fff" stroke="#0000ff" stroke-width="2.0"/>
<path d="M523.3 1110.6L558.8 1110.6L541.1 1139.1Z" fill="#fff" stroke="#0000ff" stroke-width="2.0"/>
<path d="M526.1 1039.7L561.6 1039.7L543.9 1068.2Z" fill="#fff" stroke="#0000ff" stroke-width="2.0"/>
<path d="M531.4 938.8L566.9 938.8L549.2 967.3Z" fill="#fff" stroke="#0000ff" stroke-width="2.0"/>
<path d="M537.1 795.6L572.6 795.6L554.8 824.1Z" fill="#fff" stroke="#0000ff" stroke-width="2.0"/>
<path d="M548 590.9L583.5 590.9L565.7 619.4Z" fill="#fff" stroke="#0000ff" stroke-width="2.0"/>
<path d="M298.1 1292.3 L298.1 1290.9 L298.3 1289.5 L298.6 1288.1 L299 1286.8 L299.5 1285.7 L300.3 1284.5 L301.3 1282.6 L303 1279.1 L305.6 1275.6 L308.9 1271.6 L312.7 1267.7 L315.6 1265.8 L318.7 1264.2 L321.9 1262.7 L325.2 1261.4 L328.5 1260.2 L331.8 1259.1 L335.6 1258.2 L339.4 1257.5 L343 1256.9 L346.6 1256.4 L350.6 1256.1 L354.6 1256.2 L358.4 1256.3 L362.2 1256.7 L366.2 1257.5 L370 1258.5 L373.6 1260.1 L377 1261.7 L379.9 1262.7 L382.7 1263.6 L387.6 1265.6 L391.9 1267.7 L396.1 1269.1 L399.9 1270.3 L403.7 1270.3 L407.3 1269.9 L411.1 1268.7 L415.1 1266.3 L417.6 1264.9 L420.3 1263.2 L423.3 1261.2 L426.3 1258.8 L429.1 1256.1 L431.9 1253.1 L433.9 1250.6 L436 1247.9 L438.1 1245.2 L440.6 1242.2 L443.2 1239.2 L445.8 1236 L448 1233.5 L450.2 1230.9 L452.4 1228.2 L454.5 1225.4 L456.2 1223 L457.9 1220.4 L459.6 1217.8 L461.2 1215.1 L462.7 1212.3 L464.2 1209.5 L465.6 1206.7 L467 1203.8 L468.3 1200.8 L469.6 1197.7 L470.9 1194.4 L472.2 1190.4 L473.5 1186.3 L474.7 1181.9 L475.8 1177.4 L476.9 1172.7 L477.8 1167.9 L478.8 1161.6 L479.6 1155 L480.3 1148.1 L480.9 1141 L481.5 1133.6 L482 1126 L482.6 1116.2 L483.2 1106.1 L483.6 1095.5 L484 1084.6 L484.4 1073.5 L484.8 1062 L485.3 1048.2 L485.7 1034.1 L486 1019.5 L486.4 1004.5 L486.8 989 L487.3 973 L487.9 952.6 L488.7 931.6 L489.5 909.7 L490.3 887.2 L491.2 864 L492.1 840.1 L493.3 809.8 L494.6 778 L495.9 745.2 L497.3 711.9 L498.7 678.5 L500 645.7" fill="none" stroke="#008000" stroke-width="10.5" stroke-linejoin="round" stroke-linecap="round"/>
<path d="M298.1 1274.8L316.1 1292.3L298.1 1309.8L280.1 1292.3Z" fill="#fff" stroke="#00ffff" stroke-width="2.0"/>
<path d="M298.1 1273.4L316.1 1290.9L298.1 1308.4L280.1 1290.9Z" fill="#fff" stroke="#00ffff" stroke-width="2.0"/>
<path d="M298.3 1272L316.3 1289.5L298.3 1307L280.3 1289.5Z" fill="#fff" stroke="#00ffff" stroke-width="2.0"/>
<path d="M298.6 1270.6L316.6 1288.1L298.6 1305.6L280.6 1288.1Z" fill="#fff" stroke="#00ffff" stroke-width="2.0"/>
<path d="M299 1269.3L317 1286.8L299 1304.3L281 1286.8Z" fill="#fff" stroke="#00ffff" stroke-width="2.0"/>
<path d="M299.5 1268.2L317.5 1285.7L299.5 1303.2L281.5 1285.7Z" fill="#fff" stroke="#00ffff" stroke-width="2.0"/>
<path d="M300.3 1267L318.3 1284.5L300.3 1302L282.3 1284.5Z" fill="#fff" stroke="#00ffff" stroke-width="2.0"/>
<path d="M301.3 1265.1L319.3 1282.6L301.3 1300.1L283.3 1282.6Z" fill="#fff" stroke="#00ffff" stroke-width="2.0"/>
<path d="M303 1261.6L321 1279.1L303 1296.6L285 1279.1Z" fill="#fff" stroke="#00ffff" stroke-width="2.0"/>
<path d="M305.6 1258.1L323.6 1275.6L305.6 1293.1L287.6 1275.6Z" fill="#fff" stroke="#00ffff" stroke-width="2.0"/>
<path d="M308.9 1254.1L326.9 1271.6L308.9 1289.1L290.9 1271.6Z" fill="#fff" stroke="#00ffff" stroke-width="2.0"/>
<path d="M312.7 1250.2L330.7 1267.7L312.7 1285.2L294.7 1267.7Z" fill="#fff" stroke="#00ffff" stroke-width="2.0"/>
<path d="M318.7 1246.7L336.7 1264.2L318.7 1281.7L300.7 1264.2Z" fill="#fff" stroke="#00ffff" stroke-width="2.0"/>
<path d="M325.2 1243.9L343.2 1261.4L325.2 1278.9L307.2 1261.4Z" fill="#fff" stroke="#00ffff" stroke-width="2.0"/>
<path d="M331.8 1241.6L349.8 1259.1L331.8 1276.6L313.8 1259.1Z" fill="#fff" stroke="#00ffff" stroke-width="2.0"/>
<path d="M339.4 1240L357.4 1257.5L339.4 1275L321.4 1257.5Z" fill="#fff" stroke="#00ffff" stroke-width="2.0"/>
<path d="M346.6 1238.9L364.6 1256.4L346.6 1273.9L328.6 1256.4Z" fill="#fff" stroke="#00ffff" stroke-width="2.0"/>
<path d="M354.6 1238.7L372.6 1256.2L354.6 1273.7L336.6 1256.2Z" fill="#fff" stroke="#00ffff" stroke-width="2.0"/>
<path d="M362.2 1239.2L380.2 1256.7L362.2 1274.2L344.2 1256.7Z" fill="#fff" stroke="#00ffff" stroke-width="2.0"/>
<path d="M370 1241L388 1258.5L370 1276L352 1258.5Z" fill="#fff" stroke="#00ffff" stroke-width="2.0"/>
<path d="M377 1244.2L395 1261.7L377 1279.2L359 1261.7Z" fill="#fff" stroke="#00ffff" stroke-width="2.0"/>
<path d="M382.7 1246.1L400.7 1263.6L382.7 1281.1L364.7 1263.6Z" fill="#fff" stroke="#00ffff" stroke-width="2.0"/>
<path d="M387.6 1248.1L405.6 1265.6L387.6 1283.1L369.6 1265.6Z" fill="#fff" stroke="#00ffff" stroke-width="2.0"/>
<path d="M391.9 1250.2L409.9 1267.7L391.9 1285.2L373.9 1267.7Z" fill="#fff" stroke="#00ffff" stroke-width="2.0"/>
<path d="M396.1 1251.6L414.1 1269.1L396.1 1286.6L378.1 1269.1Z" fill="#fff" stroke="#00ffff" stroke-width="2.0"/>
<path d="M399.9 1252.8L417.9 1270.3L399.9 1287.8L381.9 1270.3Z" fill="#fff" stroke="#00ffff" stroke-width="2.0"/>
<path d="M403.7 1252.8L421.7 1270.3L403.7 1287.8L385.7 1270.3Z" fill="#fff" stroke="#00ffff" stroke-width="2.0"/>
<path d="M407.3 1252.4L425.3 1269.9L407.3 1287.4L389.3 1269.9Z" fill="#fff" stroke="#00ffff" stroke-width="2.0"/>
<path d="M411.1 1251.2L429.1 1268.7L411.1 1286.2L393.1 1268.7Z" fill="#fff" stroke="#00ffff" stroke-width="2.0"/>
<path d="M415.1 1248.8L433.1 1266.3L415.1 1283.8L397.1 1266.3Z" fill="#fff" stroke="#00ffff" stroke-width="2.0"/>
<path d="M420.3 1245.7L438.3 1263.2L420.3 1280.7L402.3 1263.2Z" fill="#fff" stroke="#00ffff" stroke-width="2.0"/>
<path d="M426.3 1241.3L444.3 1258.8L426.3 1276.3L408.3 1258.8Z" fill="#fff" stroke="#00ffff" stroke-width="2.0"/>
<path d="M431.9 1235.6L449.9 1253.1L431.9 1270.6L413.9 1253.1Z" fill="#fff" stroke="#00ffff" stroke-width="2.0"/>
<path d="M438.1 1227.7L456.1 1245.2L438.1 1262.7L420.1 1245.2Z" fill="#fff" stroke="#00ffff" stroke-width="2.0"/>
<path d="M445.8 1218.5L463.8 1236L445.8 1253.5L427.8 1236Z" fill="#fff" stroke="#00ffff" stroke-width="2.0"/>
<path d="M454.5 1207.9L472.5 1225.4L454.5 1242.9L436.5 1225.4Z" fill="#fff" stroke="#00ffff" stroke-width="2.0"/>
<path d="M462.7 1194.8L480.7 1212.3L462.7 1229.8L444.7 1212.3Z" fill="#fff" stroke="#00ffff" stroke-width="2.0"/>
<path d="M470.9 1176.9L488.9 1194.4L470.9 1211.9L452.9 1194.4Z" fill="#fff" stroke="#00ffff" stroke-width="2.0"/>
<path d="M477.8 1150.4L495.8 1167.9L477.8 1185.4L459.8 1167.9Z" fill="#fff" stroke="#00ffff" stroke-width="2.0"/>
<path d="M482 1108.5L500 1126L482 1143.5L464 1126Z" fill="#fff" stroke="#00ffff" stroke-width="2.0"/>
<path d="M484.8 1044.5L502.8 1062L484.8 1079.5L466.8 1062Z" fill="#fff" stroke="#00ffff" stroke-width="2.0"/>
<path d="M487.3 955.5L505.3 973L487.3 990.5L469.3 973Z" fill="#fff" stroke="#00ffff" stroke-width="2.0"/>
<path d="M492.1 822.6L510.1 840.1L492.1 857.6L474.1 840.1Z" fill="#fff" stroke="#00ffff" stroke-width="2.0"/>
<path d="M500 628.2L518 645.7L500 663.2L482 645.7Z" fill="#fff" stroke="#00ffff" stroke-width="2.0"/>
</g>
<rect x="278" y="61" width="2.6" height="1306" fill="#aaa"/>
<rect x="280.6" y="61" width="2.5" height="1306" fill="#d4d4d4"/>
<line x1="279" y1="1366" x2="1900" y2="1366" stroke="#808080" stroke-width="2.6"/>
<line x1="279" y1="58" x2="1900" y2="58" stroke="#e6e6e6" stroke-width="1.6"/>
<line x1="279" y1="61.2" x2="1900" y2="61.2" stroke="#767676" stroke-width="2.6"/>
<line x1="1899" y1="60" x2="1899" y2="1367" stroke="#383838" stroke-width="2.6"/>
<text x="280.5" y="1433" class="s" font-size="54" text-anchor="middle">0</text>
<text x="482.8" y="1433" class="s" font-size="54" text-anchor="middle">50</text>
<text x="685.1" y="1433" class="s" font-size="54" text-anchor="middle">100</text>
<text x="887.4" y="1433" class="s" font-size="54" text-anchor="middle">150</text>
<text x="1089.7" y="1433" class="s" font-size="54" text-anchor="middle">200</text>
<text x="1292" y="1433" class="s" font-size="54" text-anchor="middle">250</text>
<text x="1494.3" y="1433" class="s" font-size="54" text-anchor="middle">300</text>
<text x="1696.6" y="1433" class="s" font-size="54" text-anchor="middle">350</text>
<text x="1898.9" y="1433" class="s" font-size="54" text-anchor="middle">400</text>
<text x="251" y="1305.8" class="s" font-size="54" text-anchor="end">0</text>
<text x="251" y="1059.7" class="s" font-size="54" text-anchor="end">50</text>
<text x="251" y="813.6" class="s" font-size="54" text-anchor="end">100</text>
<text x="251" y="567.6" class="s" font-size="54" text-anchor="end">150</text>
<text x="251" y="321.5" class="s" font-size="54" text-anchor="end">200</text>
<text x="251" y="75.5" class="s" font-size="54" text-anchor="end">250</text>
<text x="1088" y="1540" class="r" font-size="68" text-anchor="middle">Re(Z) (&#937;)</text>
<text transform="translate(73 705) rotate(-90)" class="r" font-size="68" text-anchor="middle">-lm(Z) (&#937;)</text>
<line x1="331" y1="131.5" x2="481.5" y2="131.5" stroke="#000" stroke-width="10" stroke-linecap="round"/>
<rect x="393" y="118.2" width="26.5" height="26.5" fill="#fff" stroke="#000" stroke-width="2.4"/>
<text x="496" y="154.4" class="r" font-size="55.3"><tspan>Pure 3D Ti</tspan><tspan dy="23.5">3</tspan><tspan dy="-23.5">C</tspan><tspan dy="23.5">2</tspan><tspan dy="-23.5">T</tspan><tspan dy="23.5">x</tspan></text>
<line x1="1118" y1="131.5" x2="1267" y2="131.5" stroke="#ff0000" stroke-width="10" stroke-linecap="round"/>
<circle cx="1192.5" cy="131.5" r="13.8" fill="#fff" stroke="#ff0000" stroke-width="2.4"/>
<text x="1282" y="154.4" class="r" font-size="55.3"><tspan>3D Ti</tspan><tspan dy="23.5">3</tspan><tspan dy="-23.5">C</tspan><tspan dy="23.5">2</tspan><tspan dy="-23.5">T</tspan><tspan dy="23.5">x</tspan><tspan dy="-23.5">-20 wt.% NiO</tspan></text>
<line x1="331" y1="239.4" x2="481.5" y2="239.4" stroke="#0000ff" stroke-width="10" stroke-linecap="round"/>
<path d="M406.2 219.1L422.8 249.6L389.8 249.6Z" fill="#fff" stroke="#00ff00" stroke-width="2.4"/>
<text x="496" y="262.5" class="r" font-size="55.3"><tspan>3D Ti</tspan><tspan dy="23.5">3</tspan><tspan dy="-23.5">C</tspan><tspan dy="23.5">2</tspan><tspan dy="-23.5">T</tspan><tspan dy="23.5">x</tspan><tspan dy="-23.5">-33 wt.% NiO</tspan></text>
<line x1="1118" y1="239.4" x2="1267" y2="239.4" stroke="#ff00ff" stroke-width="10" stroke-linecap="round"/>
<path d="M1175 229.7L1210 229.7L1192.5 258.7Z" fill="#fff" stroke="#0000ff" stroke-width="2.4"/>
<text x="1282" y="262.5" class="r" font-size="55.3"><tspan>3D Ti</tspan><tspan dy="23.5">3</tspan><tspan dy="-23.5">C</tspan><tspan dy="23.5">2</tspan><tspan dy="-23.5">T</tspan><tspan dy="23.5">x</tspan><tspan dy="-23.5">-50 wt.% NiO</tspan></text>
<line x1="331" y1="346.8" x2="481.5" y2="346.8" stroke="#008000" stroke-width="10" stroke-linecap="round"/>
<path d="M406.2 329.8L422.8 346.8L406.2 363.8L389.8 346.8Z" fill="#fff" stroke="#00ffff" stroke-width="2.4"/>
<text x="496" y="370.6" class="r" font-size="55.3"><tspan>3D Ti</tspan><tspan dy="23.5">3</tspan><tspan dy="-23.5">C</tspan><tspan dy="23.5">2</tspan><tspan dy="-23.5">T</tspan><tspan dy="23.5">x</tspan><tspan dy="-23.5">-67 wt.% NiO</tspan></text>
<rect x="741.4" y="422.2" width="1072.6" height="865.0" fill="#fff"/>
<g clip-path="url(#ci)">
<path d="M809.9 1248.7 L810.2 1245.1 L810.5 1241.5 L810.9 1237.9 L811.3 1234.3 L811.7 1230.7 L812.2 1227.1 L812.8 1223.5 L813.4 1219.9 L814.2 1216.3 L815 1212.7 L815.9 1209.1 L816.9 1205.5 L818 1201.9 L819.3 1198.3 L820.6 1194.7 L822.1 1191 L823.7 1187.4 L825.5 1183.9 L827.4 1180.6 L829.5 1177.5 L831.7 1174.5 L834 1171.6 L836.5 1168.9 L839.2 1166.3 L842.2 1164 L845.5 1162 L848.9 1160.1 L852.3 1158.6 L855.8 1157.4 L859.6 1156.4 L862.5 1155.7 L865.6 1155.3 L868.8 1154.8 L872 1154.5 L875.2 1154.2 L878.5 1154 L881.8 1153.9 L885.1 1153.8 L888.4 1153.7 L891.6 1153.4 L894.9 1152.9 L898.2 1152.2 L901.5 1151.5 L904.8 1150.9 L908 1150.4 L911 1150.2 L914 1150.2 L917 1150.2 L920 1150.3 L923 1150.4 L926.4 1150.5 L929.8 1150.7 L933.3 1150.9 L936.7 1151.2 L940 1151.5 L943.6 1151.9 L947.2 1152.4 L950.7 1152.9 L954.3 1153.4 L957.5 1153.9 L960.7 1154.4 L964 1154.9 L967.3 1155.4 L970.6 1155.8 L974 1156.1 L977.4 1156.4 L980.8 1156.6 L984 1157 L987 1157.7 L990.1 1159 L992.8 1160.6 L995.5 1162.4 L998.4 1163.9 L1001.3 1165.3 L1004.4 1166.7 L1007.5 1167.8 L1010.4 1168.8 L1013.9 1169.5 L1017.2 1170 L1020.6 1170.1 L1024 1170 L1027.3 1169.5 L1030.7 1168.8 L1033.6 1167.9 L1036.5 1166.8 L1039.3 1165.5 L1042.1 1163.9 L1044.6 1162 L1047 1159.9 L1049.3 1157.6 L1051.8 1155.3 L1054.1 1153.2 L1056.5 1151 L1058.9 1148.7 L1061.3 1146.5 L1063.9 1144.2 L1066.4 1142.1 L1069 1139.9 L1071.6 1137.8 L1074.4 1135.6 L1077.2 1133.4 L1080.1 1131.2 L1083.6 1128.8 L1087.2 1126.2 L1091 1123.7 L1094.9 1121.2 L1098.7 1118.8 L1102.5 1116.4 L1106.2 1114.1 L1109.9 1112 L1113.5 1109.8 L1117.3 1107.7 L1121.1 1105.6 L1125 1103.4 L1129.5 1101.1 L1134.1 1098.7 L1138.8 1096.4 L1143.6 1094 L1148.5 1091.7 L1153.3 1089.4 L1158.1 1087.1 L1163 1084.8 L1167.9 1082.5 L1172.8 1080.2 L1177.6 1077.9 L1182.5 1075.6 L1187.5 1073.4 L1192.5 1071.1 L1197.5 1068.9 L1202.4 1066.6 L1207.2 1064.2 L1211.8 1061.6 L1215.9 1059 L1219.8 1056.3 L1223.7 1053.5 L1227.4 1050.6 L1231.3 1047.5 L1235.2 1044.3 L1240 1040.3 L1244.9 1036.1 L1249.9 1031.6 L1254.8 1027 L1259.7 1022.2 L1264.5 1017.3 L1269.3 1011.9 L1274.1 1006.2 L1278.7 1000.4 L1283.3 994.4 L1288 988.2 L1292.8 981.9 L1298.3 974.7 L1304 967.2 L1309.7 959.6 L1315.5 951.8 L1321.2 943.7 L1326.9 935.5 L1333.1 926.2 L1339.2 916.7 L1345.3 906.9 L1351.5 896.9 L1357.7 886.6 L1364 876.1 L1371.2 863.8 L1378.4 851.2 L1385.8 838.2 L1393.2 825 L1400.9 811.5 L1408.8 797.8 L1418.3 782.2 L1428.2 766.3 L1438.4 750.2 L1448.6 733.6 L1458.7 716.6 L1468.3 699 L1478.7 678.6 L1488.8 657.6 L1498.6 636 L1508.4 613.9 L1518.1 591.3 L1527.9 568.3 L1538.9 542.6 L1550.1 516.5 L1561.3 489.8 L1572.2 462.4 L1582.6 434.2 L1592.2 405 L1602.1 370.2 L1611 334.2 L1619.1 297.1 L1626.9 259 L1634.8 219.7 L1643 179.5 L1653.4 131.1 L1664.3 81.5 L1675.2 30.4 L1685.7 -22.4 L1695.3 -77 L1703.4 -133.7 L1711.1 -206.7 L1716.8 -283.8 L1721.1 -363.7 L1724.8 -445 L1728.4 -526.3 L1732.7 -606.2" fill="none" stroke="#000000" stroke-width="5.4" stroke-linejoin="round" stroke-linecap="round"/>
<rect x="802.6" y="1241.5" width="14.5" height="14.5" fill="#fff" stroke="#000000" stroke-width="1.8"/>
<rect x="803.6" y="1230.7" width="14.5" height="14.5" fill="#fff" stroke="#000000" stroke-width="1.8"/>
<rect x="805" y="1219.8" width="14.5" height="14.5" fill="#fff" stroke="#000000" stroke-width="1.8"/>
<rect x="806.9" y="1209" width="14.5" height="14.5" fill="#fff" stroke="#000000" stroke-width="1.8"/>
<rect x="809.7" y="1198.2" width="14.5" height="14.5" fill="#fff" stroke="#000000" stroke-width="1.8"/>
<rect x="813.4" y="1187.5" width="14.5" height="14.5" fill="#fff" stroke="#000000" stroke-width="1.8"/>
<rect x="818.2" y="1176.7" width="14.5" height="14.5" fill="#fff" stroke="#000000" stroke-width="1.8"/>
<rect x="824.5" y="1167.2" width="14.5" height="14.5" fill="#fff" stroke="#000000" stroke-width="1.8"/>
<rect x="831.9" y="1159.1" width="14.5" height="14.5" fill="#fff" stroke="#000000" stroke-width="1.8"/>
<rect x="841.7" y="1152.9" width="14.5" height="14.5" fill="#fff" stroke="#000000" stroke-width="1.8"/>
<rect x="852.4" y="1149.1" width="14.5" height="14.5" fill="#fff" stroke="#000000" stroke-width="1.8"/>
<rect x="868" y="1147" width="14.5" height="14.5" fill="#fff" stroke="#000000" stroke-width="1.8"/>
<rect x="884.4" y="1146.1" width="14.5" height="14.5" fill="#fff" stroke="#000000" stroke-width="1.8"/>
<rect x="900.8" y="1143.2" width="14.5" height="14.5" fill="#fff" stroke="#000000" stroke-width="1.8"/>
<rect x="915.8" y="1143.2" width="14.5" height="14.5" fill="#fff" stroke="#000000" stroke-width="1.8"/>
<rect x="932.8" y="1144.2" width="14.5" height="14.5" fill="#fff" stroke="#000000" stroke-width="1.8"/>
<rect x="947" y="1146.1" width="14.5" height="14.5" fill="#fff" stroke="#000000" stroke-width="1.8"/>
<rect x="963.4" y="1148.6" width="14.5" height="14.5" fill="#fff" stroke="#000000" stroke-width="1.8"/>
<rect x="979.8" y="1150.5" width="14.5" height="14.5" fill="#fff" stroke="#000000" stroke-width="1.8"/>
<rect x="991.1" y="1156.7" width="14.5" height="14.5" fill="#fff" stroke="#000000" stroke-width="1.8"/>
<rect x="1003.2" y="1161.5" width="14.5" height="14.5" fill="#fff" stroke="#000000" stroke-width="1.8"/>
<rect x="1013.3" y="1162.9" width="14.5" height="14.5" fill="#fff" stroke="#000000" stroke-width="1.8"/>
<rect x="1023.5" y="1161.5" width="14.5" height="14.5" fill="#fff" stroke="#000000" stroke-width="1.8"/>
<rect x="1034.8" y="1156.7" width="14.5" height="14.5" fill="#fff" stroke="#000000" stroke-width="1.8"/>
<rect x="1044.6" y="1148" width="14.5" height="14.5" fill="#fff" stroke="#000000" stroke-width="1.8"/>
<rect x="1056.7" y="1137" width="14.5" height="14.5" fill="#fff" stroke="#000000" stroke-width="1.8"/>
<rect x="1072.8" y="1124" width="14.5" height="14.5" fill="#fff" stroke="#000000" stroke-width="1.8"/>
<rect x="1095.3" y="1109.2" width="14.5" height="14.5" fill="#fff" stroke="#000000" stroke-width="1.8"/>
<rect x="1117.7" y="1096.2" width="14.5" height="14.5" fill="#fff" stroke="#000000" stroke-width="1.8"/>
<rect x="1146" y="1082.2" width="14.5" height="14.5" fill="#fff" stroke="#000000" stroke-width="1.8"/>
<rect x="1175.3" y="1068.4" width="14.5" height="14.5" fill="#fff" stroke="#000000" stroke-width="1.8"/>
<rect x="1204.5" y="1054.3" width="14.5" height="14.5" fill="#fff" stroke="#000000" stroke-width="1.8"/>
<rect x="1228" y="1037.1" width="14.5" height="14.5" fill="#fff" stroke="#000000" stroke-width="1.8"/>
<rect x="1257.2" y="1010.1" width="14.5" height="14.5" fill="#fff" stroke="#000000" stroke-width="1.8"/>
<rect x="1285.5" y="974.7" width="14.5" height="14.5" fill="#fff" stroke="#000000" stroke-width="1.8"/>
<rect x="1319.7" y="928.2" width="14.5" height="14.5" fill="#fff" stroke="#000000" stroke-width="1.8"/>
<rect x="1356.7" y="868.9" width="14.5" height="14.5" fill="#fff" stroke="#000000" stroke-width="1.8"/>
<rect x="1401.6" y="790.5" width="14.5" height="14.5" fill="#fff" stroke="#000000" stroke-width="1.8"/>
<rect x="1461.1" y="691.7" width="14.5" height="14.5" fill="#fff" stroke="#000000" stroke-width="1.8"/>
<rect x="1520.6" y="561" width="14.5" height="14.5" fill="#fff" stroke="#000000" stroke-width="1.8"/>
<rect x="1585" y="397.7" width="14.5" height="14.5" fill="#fff" stroke="#000000" stroke-width="1.8"/>
<rect x="1635.7" y="172.2" width="14.5" height="14.5" fill="#fff" stroke="#000000" stroke-width="1.8"/>
<rect x="1696.2" y="-141" width="14.5" height="14.5" fill="#fff" stroke="#000000" stroke-width="1.8"/>
<rect x="1725.5" y="-613.4" width="14.5" height="14.5" fill="#fff" stroke="#000000" stroke-width="1.8"/>
<path d="M808.5 1244.1 L808.8 1241.1 L809.2 1238 L809.5 1235 L809.9 1232 L810.3 1229 L810.8 1226 L811.3 1223 L811.8 1220.1 L812.6 1216.3 L813.5 1212.6 L814.4 1209 L815.3 1205.6 L816.2 1202.3 L817.3 1199 L818.4 1196 L819.6 1193.1 L820.8 1190.1 L822.1 1187 L823.5 1184 L824.9 1180.9 L826.5 1177.9 L828.2 1175 L830 1172 L832 1168.8 L834.1 1165.6 L836.2 1162.3 L838.1 1159.4 L840 1156.5 L842 1153.4 L844 1150.2 L845.7 1147.4 L847.5 1144.4 L849.2 1141.4 L851 1138.3 L852.9 1135.2 L854.8 1132.1 L856.7 1128.8 L858.6 1125.6 L860.6 1122.3 L862.7 1119 L864.9 1115.7 L867.4 1112.4 L870.9 1108.2 L874.7 1103.9 L878.7 1099.6 L882.9 1095.3 L887.3 1091.1 L891.8 1087 L896.7 1082.6 L901.7 1078.3 L906.9 1074 L912.3 1069.9 L917.8 1066.1 L923.6 1062.7 L929.9 1059.6 L936.4 1056.9 L943.2 1054.5 L950.1 1052.4 L957.1 1050.5 L964 1048.9 L971.1 1047.4 L978.3 1046.2 L985.5 1045.2 L992.8 1044.5 L1000 1044.2 L1006.9 1044.3 L1013.3 1044.9 L1019.6 1045.9 L1025.7 1047.3 L1031.8 1048.8 L1037.9 1050.4 L1044 1051.9 L1050 1053.2 L1055.9 1054.6 L1061.8 1055.9 L1067.6 1057.4 L1073.4 1058.9 L1079.1 1060.5 L1084.5 1062.1 L1089.8 1063.8 L1095 1065.6 L1100.2 1067.4 L1105.3 1069.3 L1110.3 1071.3 L1115 1073.3 L1119.7 1075.4 L1124.2 1077.5 L1128.7 1079.7 L1133.2 1081.9 L1137.7 1084 L1141.9 1086.1 L1146.2 1088.2 L1150.4 1090.3 L1154.6 1092.3 L1158.8 1094.2 L1163 1095.9 L1166.9 1097.2 L1170.9 1098.4 L1174.8 1099.4 L1178.7 1100.3 L1182.6 1101.3 L1186.4 1102.4 L1190.1 1103.4 L1193.6 1104.4 L1197.2 1105.5 L1200.8 1106.5 L1204.3 1107.7 L1207.9 1108.8 L1211.6 1110.1 L1215.5 1111.5 L1219.3 1112.9 L1223.1 1114.3 L1226.8 1115.9 L1230.3 1117.5 L1233.6 1119.2 L1236.7 1121 L1239.8 1122.8 L1242.8 1124.7 L1245.8 1126.6 L1248.9 1128.3 L1251.8 1129.8 L1254.8 1131.4 L1257.7 1132.8 L1260.6 1134.2 L1263.5 1135.6 L1266.4 1136.9 L1269.6 1138.3 L1272.8 1139.5 L1276 1140.7 L1279 1141.9 L1282 1143.1 L1285.3 1144.8 L1288.4 1146.5 L1291.5 1148.2 L1294.7 1149.6 L1297.9 1150.8 L1301.1 1151.8 L1304.2 1152.6 L1307.4 1152.8 L1310.4 1152.5 L1313.3 1151.7 L1316.2 1150.6 L1319.1 1149.6 L1322 1148.6 L1325 1147.6 L1327.9 1146.5 L1330.8 1145.3 L1333.8 1144.3 L1336.7 1143.3 L1339.6 1142 L1342.5 1139.9 L1345.9 1135.8 L1349.4 1130.2 L1352.8 1123.7 L1356.1 1116.8 L1359.2 1109.8 L1362 1103.4 L1364.3 1098.1 L1366.4 1092.9 L1368.3 1087.7 L1370.1 1082.5 L1371.9 1077.1 L1373.7 1071.3 L1376.1 1064 L1378.4 1056.4 L1380.8 1048.6 L1383.1 1040.4 L1385.3 1032 L1387.4 1023.3 L1389.6 1012.4 L1391.7 1001 L1393.6 989.3 L1395.4 977.1 L1397.2 964.6 L1399.1 951.7 L1401.4 935.5 L1403.6 918.8 L1405.9 901.4 L1408.1 883.5 L1410.4 865.2 L1412.7 846.4 L1415.6 823.8 L1418.6 800.6 L1421.7 776.7 L1424.7 752.2 L1427.6 726.8 L1430.3 700.6 L1433.3 667.8 L1436 633.9 L1438.6 598.8 L1441.1 562.6 L1443.5 525.4 L1445.9 487.3 L1448.6 440.9 L1451 393.1 L1453.4 343.9 L1455.8 293.2 L1458.5 241.1 L1461.5 187.6 L1465.7 122.1 L1470.4 54.5 L1475.3 -15 L1480.5 -86.6 L1485.7 -160.4 L1490.8 -236.3 L1496.8 -330 L1502.9 -426.7 L1509 -526.4 L1515.2 -629.1 L1521.5 -734.9 L1527.9 -843.8 L1535.7 -980 L1543.8 -1122.8 L1551.9 -1270 L1560.2 -1419.4 L1568.4 -1568.7 L1576.6 -1715.9" fill="none" stroke="#ff0000" stroke-width="5.4" stroke-linejoin="round" stroke-linecap="round"/>
<circle cx="808.5" cy="1244.1" r="8" fill="#fff" stroke="#ff0000" stroke-width="1.8"/>
<circle cx="809.9" cy="1232" r="8" fill="#fff" stroke="#ff0000" stroke-width="1.8"/>
<circle cx="811.8" cy="1220.1" r="8" fill="#fff" stroke="#ff0000" stroke-width="1.8"/>
<circle cx="814.4" cy="1209" r="8" fill="#fff" stroke="#ff0000" stroke-width="1.8"/>
<circle cx="817.3" cy="1199" r="8" fill="#fff" stroke="#ff0000" stroke-width="1.8"/>
<circle cx="820.8" cy="1190.1" r="8" fill="#fff" stroke="#ff0000" stroke-width="1.8"/>
<circle cx="824.9" cy="1180.9" r="8" fill="#fff" stroke="#ff0000" stroke-width="1.8"/>
<circle cx="830" cy="1172" r="8" fill="#fff" stroke="#ff0000" stroke-width="1.8"/>
<circle cx="836.2" cy="1162.3" r="8" fill="#fff" stroke="#ff0000" stroke-width="1.8"/>
<circle cx="844" cy="1150.2" r="8" fill="#fff" stroke="#ff0000" stroke-width="1.8"/>
<circle cx="854.8" cy="1132.1" r="8" fill="#fff" stroke="#ff0000" stroke-width="1.8"/>
<circle cx="867.4" cy="1112.3" r="8" fill="#fff" stroke="#ff0000" stroke-width="1.8"/>
<circle cx="891.8" cy="1087" r="8" fill="#fff" stroke="#ff0000" stroke-width="1.8"/>
<circle cx="923.6" cy="1062.7" r="8" fill="#fff" stroke="#ff0000" stroke-width="1.8"/>
<circle cx="964" cy="1048.9" r="8" fill="#fff" stroke="#ff0000" stroke-width="1.8"/>
<circle cx="1006.9" cy="1044.3" r="8" fill="#fff" stroke="#ff0000" stroke-width="1.8"/>
<circle cx="1044" cy="1051.9" r="8" fill="#fff" stroke="#ff0000" stroke-width="1.8"/>
<circle cx="1079.1" cy="1060.5" r="8" fill="#fff" stroke="#ff0000" stroke-width="1.8"/>
<circle cx="1110.3" cy="1071.3" r="8" fill="#fff" stroke="#ff0000" stroke-width="1.8"/>
<circle cx="1137.7" cy="1084" r="8" fill="#fff" stroke="#ff0000" stroke-width="1.8"/>
<circle cx="1163" cy="1095.9" r="8" fill="#fff" stroke="#ff0000" stroke-width="1.8"/>
<circle cx="1186.4" cy="1102.4" r="8" fill="#fff" stroke="#ff0000" stroke-width="1.8"/>
<circle cx="1207.9" cy="1108.8" r="8" fill="#fff" stroke="#ff0000" stroke-width="1.8"/>
<circle cx="1230.3" cy="1117.5" r="8" fill="#fff" stroke="#ff0000" stroke-width="1.8"/>
<circle cx="1248.9" cy="1128.3" r="8" fill="#fff" stroke="#ff0000" stroke-width="1.8"/>
<circle cx="1266.4" cy="1136.9" r="8" fill="#fff" stroke="#ff0000" stroke-width="1.8"/>
<circle cx="1282" cy="1143.1" r="8" fill="#fff" stroke="#ff0000" stroke-width="1.8"/>
<circle cx="1294.7" cy="1149.6" r="8" fill="#fff" stroke="#ff0000" stroke-width="1.8"/>
<circle cx="1307.4" cy="1152.8" r="8" fill="#fff" stroke="#ff0000" stroke-width="1.8"/>
<circle cx="1319.1" cy="1149.6" r="8" fill="#fff" stroke="#ff0000" stroke-width="1.8"/>
<circle cx="1330.8" cy="1145.3" r="8" fill="#fff" stroke="#ff0000" stroke-width="1.8"/>
<circle cx="1342.5" cy="1139.9" r="8" fill="#fff" stroke="#ff0000" stroke-width="1.8"/>
<circle cx="1362" cy="1103.4" r="8" fill="#fff" stroke="#ff0000" stroke-width="1.8"/>
<circle cx="1373.7" cy="1071.3" r="8" fill="#fff" stroke="#ff0000" stroke-width="1.8"/>
<circle cx="1387.4" cy="1023.2" r="8" fill="#fff" stroke="#ff0000" stroke-width="1.8"/>
<circle cx="1399.1" cy="951.7" r="8" fill="#fff" stroke="#ff0000" stroke-width="1.8"/>
<circle cx="1412.7" cy="846.4" r="8" fill="#fff" stroke="#ff0000" stroke-width="1.8"/>
<circle cx="1430.3" cy="700.6" r="8" fill="#fff" stroke="#ff0000" stroke-width="1.8"/>
<circle cx="1445.9" cy="487.3" r="8" fill="#fff" stroke="#ff0000" stroke-width="1.8"/>
<circle cx="1461.5" cy="187.6" r="8" fill="#fff" stroke="#ff0000" stroke-width="1.8"/>
<circle cx="1490.8" cy="-236.3" r="8" fill="#fff" stroke="#ff0000" stroke-width="1.8"/>
<circle cx="1527.9" cy="-843.8" r="8" fill="#fff" stroke="#ff0000" stroke-width="1.8"/>
<circle cx="1576.6" cy="-1715.9" r="8" fill="#fff" stroke="#ff0000" stroke-width="1.8"/>
<path d="M810.5 1250.6 L810.7 1246.3 L811.1 1241.9 L811.6 1237.5 L812.2 1233 L813 1228.7 L813.8 1224.4 L814.7 1220.1 L815.7 1215.8 L816.9 1211.7 L818.3 1207.7 L819.8 1203.6 L821.6 1199.6 L823.4 1195.7 L825.5 1192 L827.8 1188.5 L830.4 1185.2 L833.2 1182.1 L836.2 1179.3 L839.5 1177 L843.1 1175 L846.9 1173.5 L850.9 1172.3 L853.7 1171.5 L856.7 1170.8 L859.6 1170.1 L863.9 1169.4 L868.4 1168.8 L872.2 1168.3 L876.1 1167.9 L880.1 1167.4 L883.4 1167 L886.8 1166.6 L890.1 1166.2 L893.2 1165.8 L897.5 1165.4 L901.6 1165 L905.8 1164.4 L910 1163.7 L913 1162.9 L916.1 1162.1 L919.1 1161.2 L922.4 1160.3 L925.7 1159.4 L928.9 1158.5 L932.8 1157.6 L936.7 1156.9 L941.1 1156.3 L945.5 1156.1 L949.8 1156.4 L954.3 1156.9 L957.5 1157.3 L960.8 1157.8 L964 1158.5 L967 1159.3 L970 1160.2 L973 1161.5 L975.6 1163 L978.1 1164.8 L980.7 1166.6 L983.3 1168.2 L986.7 1169.9 L990.1 1171.3 L993.5 1172.6 L996.6 1173.6 L999.8 1174.4 L1002.8 1175 L1006.9 1175.4 L1010.8 1175.5 L1014.7 1175.6 L1018.6 1175.5 L1022.6 1175.4 L1026.4 1175.3 L1030.2 1175.1 L1034.1 1174.5 L1037.4 1173.1 L1040.9 1171.3 L1044.2 1169.3 L1046.9 1167.6 L1049.4 1165.8 L1052 1163.7 L1054.1 1161.8 L1056.3 1159.9 L1058.5 1157.7 L1060.7 1155.5 L1062.9 1153.1 L1065.1 1150.6 L1067.2 1148 L1069.3 1145.2 L1071.5 1142.4 L1073.8 1139.5 L1076.2 1136.7 L1079.3 1133.4 L1082.6 1130.1 L1086 1126.7 L1089.6 1123.3 L1093.1 1119.9 L1096.7 1116.4 L1100.6 1112.5 L1104.5 1108.6 L1108.5 1104.6 L1112.5 1100.5 L1116.4 1096.3 L1120.1 1092.1 L1123.6 1087.8 L1126.9 1083.5 L1130.1 1079.1 L1133.3 1074.6 L1136.4 1070 L1139.6 1065.1 L1143.3 1059.3 L1147 1053.3 L1150.6 1047 L1154.2 1040.6 L1157.7 1034 L1161.1 1027.3 L1164.6 1019.7 L1168 1012 L1171.2 1004 L1174.4 995.8 L1177.5 987.4 L1180.6 978.7 L1184.1 968.3 L1187.6 957.6 L1191 946.6 L1194.3 935.2 L1197.3 923.4 L1200.1 911.2 L1203 896 L1205.6 880.2 L1207.8 863.9 L1209.9 846.9 L1211.8 829.4 L1213.7 811.3 L1216 788.3 L1218.1 764.3 L1220 739.5 L1221.8 713.9 L1223.6 687.4 L1225.4 660.1 L1227.8 625.8 L1230.2 590.2 L1232.6 553.3 L1234.8 515.3 L1236.7 476.2 L1238.1 436 L1239.1 386.5 L1239.3 335.4 L1239.1 282.7 L1238.8 228.3 L1238.7 172.3 L1239.1 114.7 L1240.3 43.3 L1241.8 -30.4 L1243.6 -106.5 L1245.8 -185.1 L1248.2 -266.1 L1250.8 -349.7 L1254.6 -454.7 L1259 -563.2 L1263.9 -675.4 L1268.8 -791.5 L1273.7 -911.5 L1278.1 -1035.5 L1283.1 -1193.8 L1287.9 -1358.6 L1292.5 -1529.2 L1296.9 -1705.4 L1301.2 -1886.5 L1305.4 -2072.3 L1310.2 -2302.7 L1314.7 -2543.8 L1319 -2792 L1323.2 -3043.8 L1327.5 -3295.6 L1331.8 -3543.8" fill="none" stroke="#0000ff" stroke-width="5.4" stroke-linejoin="round" stroke-linecap="round"/>
<path d="M810.5 1238.6L821 1256.6L800 1256.6Z" fill="#fff" stroke="#00ff00" stroke-width="1.8"/>
<path d="M811.1 1230L821.6 1248L800.6 1248Z" fill="#fff" stroke="#00ff00" stroke-width="1.8"/>
<path d="M812.2 1221L822.7 1239L801.7 1239Z" fill="#fff" stroke="#00ff00" stroke-width="1.8"/>
<path d="M813.8 1212.4L824.3 1230.4L803.3 1230.4Z" fill="#fff" stroke="#00ff00" stroke-width="1.8"/>
<path d="M815.7 1203.8L826.2 1221.8L805.2 1221.8Z" fill="#fff" stroke="#00ff00" stroke-width="1.8"/>
<path d="M818.3 1195.7L828.8 1213.7L807.8 1213.7Z" fill="#fff" stroke="#00ff00" stroke-width="1.8"/>
<path d="M821.6 1187.6L832.1 1205.6L811.1 1205.6Z" fill="#fff" stroke="#00ff00" stroke-width="1.8"/>
<path d="M825.5 1180L836 1198L815 1198Z" fill="#fff" stroke="#00ff00" stroke-width="1.8"/>
<path d="M830.4 1173.2L840.9 1191.2L819.9 1191.2Z" fill="#fff" stroke="#00ff00" stroke-width="1.8"/>
<path d="M836.2 1167.3L846.7 1185.3L825.7 1185.3Z" fill="#fff" stroke="#00ff00" stroke-width="1.8"/>
<path d="M843.1 1163L853.6 1181L832.6 1181Z" fill="#fff" stroke="#00ff00" stroke-width="1.8"/>
<path d="M850.9 1160.3L861.4 1178.3L840.4 1178.3Z" fill="#fff" stroke="#00ff00" stroke-width="1.8"/>
<path d="M859.6 1158.1L870.1 1176.1L849.1 1176.1Z" fill="#fff" stroke="#00ff00" stroke-width="1.8"/>
<path d="M868.4 1156.8L878.9 1174.8L857.9 1174.8Z" fill="#fff" stroke="#00ff00" stroke-width="1.8"/>
<path d="M880.1 1155.4L890.6 1173.4L869.6 1173.4Z" fill="#fff" stroke="#00ff00" stroke-width="1.8"/>
<path d="M893.2 1153.8L903.7 1171.8L882.7 1171.8Z" fill="#fff" stroke="#00ff00" stroke-width="1.8"/>
<path d="M901.6 1153L912.1 1171L891.1 1171Z" fill="#fff" stroke="#00ff00" stroke-width="1.8"/>
<path d="M910 1151.7L920.5 1169.7L899.5 1169.7Z" fill="#fff" stroke="#00ff00" stroke-width="1.8"/>
<path d="M919.1 1149.2L929.6 1167.2L908.6 1167.2Z" fill="#fff" stroke="#00ff00" stroke-width="1.8"/>
<path d="M928.9 1146.5L939.4 1164.5L918.4 1164.5Z" fill="#fff" stroke="#00ff00" stroke-width="1.8"/>
<path d="M936.7 1144.9L947.2 1162.9L926.2 1162.9Z" fill="#fff" stroke="#00ff00" stroke-width="1.8"/>
<path d="M945.5 1144.1L956 1162.1L935 1162.1Z" fill="#fff" stroke="#00ff00" stroke-width="1.8"/>
<path d="M954.3 1144.9L964.8 1162.9L943.8 1162.9Z" fill="#fff" stroke="#00ff00" stroke-width="1.8"/>
<path d="M964 1146.5L974.5 1164.5L953.5 1164.5Z" fill="#fff" stroke="#00ff00" stroke-width="1.8"/>
<path d="M973 1149.5L983.5 1167.5L962.5 1167.5Z" fill="#fff" stroke="#00ff00" stroke-width="1.8"/>
<path d="M983.3 1156.2L993.8 1174.2L972.8 1174.2Z" fill="#fff" stroke="#00ff00" stroke-width="1.8"/>
<path d="M993.5 1160.6L1004 1178.6L983 1178.6Z" fill="#fff" stroke="#00ff00" stroke-width="1.8"/>
<path d="M1002.8 1163L1013.3 1181L992.3 1181Z" fill="#fff" stroke="#00ff00" stroke-width="1.8"/>
<path d="M1010.8 1163.5L1021.3 1181.5L1000.3 1181.5Z" fill="#fff" stroke="#00ff00" stroke-width="1.8"/>
<path d="M1018.6 1163.5L1029.1 1181.5L1008.1 1181.5Z" fill="#fff" stroke="#00ff00" stroke-width="1.8"/>
<path d="M1026.4 1163.3L1036.9 1181.3L1015.9 1181.3Z" fill="#fff" stroke="#00ff00" stroke-width="1.8"/>
<path d="M1034.1 1162.5L1044.6 1180.5L1023.6 1180.5Z" fill="#fff" stroke="#00ff00" stroke-width="1.8"/>
<path d="M1044.2 1157.3L1054.7 1175.3L1033.7 1175.3Z" fill="#fff" stroke="#00ff00" stroke-width="1.8"/>
<path d="M1052 1151.7L1062.5 1169.7L1041.5 1169.7Z" fill="#fff" stroke="#00ff00" stroke-width="1.8"/>
<path d="M1062.9 1141.1L1073.4 1159.1L1052.4 1159.1Z" fill="#fff" stroke="#00ff00" stroke-width="1.8"/>
<path d="M1076.2 1124.7L1086.7 1142.7L1065.7 1142.7Z" fill="#fff" stroke="#00ff00" stroke-width="1.8"/>
<path d="M1096.7 1104.4L1107.2 1122.4L1086.2 1122.4Z" fill="#fff" stroke="#00ff00" stroke-width="1.8"/>
<path d="M1120.1 1080.1L1130.6 1098.1L1109.6 1098.1Z" fill="#fff" stroke="#00ff00" stroke-width="1.8"/>
<path d="M1139.6 1053.1L1150.1 1071.1L1129.1 1071.1Z" fill="#fff" stroke="#00ff00" stroke-width="1.8"/>
<path d="M1161.1 1015.3L1171.6 1033.3L1150.6 1033.3Z" fill="#fff" stroke="#00ff00" stroke-width="1.8"/>
<path d="M1180.6 966.7L1191.1 984.7L1170.1 984.7Z" fill="#fff" stroke="#00ff00" stroke-width="1.8"/>
<path d="M1200.1 899.2L1210.6 917.2L1189.6 917.2Z" fill="#fff" stroke="#00ff00" stroke-width="1.8"/>
<path d="M1213.7 799.3L1224.2 817.3L1203.2 817.3Z" fill="#fff" stroke="#00ff00" stroke-width="1.8"/>
<path d="M1225.4 648.1L1235.9 666.1L1214.9 666.1Z" fill="#fff" stroke="#00ff00" stroke-width="1.8"/>
<path d="M1238.1 424L1248.6 442L1227.6 442Z" fill="#fff" stroke="#00ff00" stroke-width="1.8"/>
<path d="M1239.1 102.7L1249.6 120.7L1228.6 120.7Z" fill="#fff" stroke="#00ff00" stroke-width="1.8"/>
<path d="M1250.8 -361.7L1261.3 -343.7L1240.3 -343.7Z" fill="#fff" stroke="#00ff00" stroke-width="1.8"/>
<path d="M1278.1 -1047.5L1288.6 -1029.5L1267.6 -1029.5Z" fill="#fff" stroke="#00ff00" stroke-width="1.8"/>
<path d="M1305.4 -2084.3L1315.9 -2066.3L1294.9 -2066.3Z" fill="#fff" stroke="#00ff00" stroke-width="1.8"/>
<path d="M1331.8 -3555.8L1342.3 -3537.8L1321.3 -3537.8Z" fill="#fff" stroke="#00ff00" stroke-width="1.8"/>
<path d="M816.9 1245.5 L816.9 1240.6 L817.1 1235.2 L817.3 1229.3 L817.5 1226.2 L817.7 1223 L817.9 1220 L818.1 1216.8 L818.4 1213.4 L818.9 1209.8 L819.6 1205.6 L820.6 1201.2 L821.5 1197.6 L822.5 1194 L823.7 1190.1 L824.7 1187.2 L825.8 1184.2 L827 1181.2 L828.2 1178 L829.4 1174.7 L830.5 1171.5 L831.6 1168.2 L832.8 1164.7 L833.9 1161.2 L835.2 1157.6 L836.4 1153.9 L838 1149.4 L839.6 1144.7 L841.3 1139.8 L843 1134.9 L844.9 1129.9 L846.8 1124.8 L849 1118.9 L851.3 1113 L853.6 1107 L856.1 1100.8 L858.8 1094.6 L861.6 1088.3 L865 1081.1 L868.5 1073.7 L872.3 1066.2 L876.3 1058.6 L880.5 1051 L885 1043.5 L890.3 1035.1 L896 1026.6 L901.9 1018.1 L908.2 1009.6 L914.8 1001.2 L921.7 993 L929.5 984.2 L937.6 975.5 L946.2 966.8 L955 958.4 L964.2 950.2 L973.8 942.5 L984.1 934.8 L994.7 927.3 L1005.8 920.2 L1017.2 913.5 L1028.8 907.4 L1040.7 902 L1053.1 897.2 L1065.9 893.1 L1078.9 889.5 L1092.1 886.5 L1105.4 884.1 L1118.5 882.3 L1131.4 881.2 L1144.4 880.7 L1157.5 880.8 L1170.5 881.4 L1183.3 882.5 L1196 883.9 L1208.1 885.8 L1220.2 888.2 L1232.2 891 L1243.9 894.1 L1255.5 897.7 L1266.8 901.5 L1277.3 905.5 L1287.5 910 L1297.6 914.9 L1307.5 919.8 L1317.3 924.8 L1327.1 929.6 L1336.5 933.9 L1345.8 938.2 L1355 942.5 L1364.1 946.9 L1373.1 951.4 L1381.9 956 L1390.3 960.8 L1398.5 965.9 L1406.6 971.1 L1414.6 976.3 L1422.4 981.2 L1430.1 985.7 L1436.5 989.3 L1442.7 992.7 L1448.8 996 L1454.9 999 L1460.9 1001.9 L1467 1004.6 L1472.6 1006.9 L1478.1 1009 L1483.6 1010.9 L1489.2 1012.7 L1494.7 1014.4 L1500.3 1016.2 L1506.1 1018.1 L1511.9 1019.8 L1517.7 1021.6 L1523.5 1023.3 L1529.3 1024.9 L1535.1 1026.5 L1540.7 1027.9 L1546.3 1029.2 L1551.8 1030.4 L1557.4 1031.6 L1562.9 1032.9 L1568.4 1034.3 L1573.9 1035.9 L1579.3 1037.7 L1584.6 1039.6 L1590 1041.4 L1595.4 1042.9 L1600.8 1044 L1606.2 1044.7 L1611.6 1045.1 L1617 1045.3 L1622.4 1045.3 L1627.8 1045.2 L1633.2 1045.1 L1638.4 1045 L1643.5 1044.7 L1648.6 1044.4 L1653.8 1044 L1659 1043.7 L1664.2 1043.5 L1669.9 1043.4 L1675.6 1043.4 L1681.4 1043.5 L1687.3 1043.5 L1693.1 1043.5 L1699 1043.5 L1704.9 1043.4 L1710.8 1043.2 L1716.7 1043.1 L1722.6 1042.9 L1728.6 1042.7 L1734.7 1042.4 L1741.1 1042.1 L1747.6 1041.8 L1754.2 1041.4 L1760.8 1041 L1767.3 1040.7 L1773.7 1040.5 L1779.6 1040.6 L1785.4 1041 L1791.2 1041.4 L1796.9 1041.6 L1802.6 1041.4 L1808.2 1040.5 L1814 1038.8 L1819.8 1036.5 L1825.5 1033.7 L1831.1 1030.6 L1836.6 1027.5 L1842 1024.6 L1846.8 1022.1 L1851.5 1019.6 L1856.1 1017.1 L1860.6 1014.5 L1865 1011.6 L1869.3 1008.4 L1873.8 1004.6 L1878.2 1000.5 L1882.5 996.1 L1886.7 991.5 L1890.7 986.6 L1894.6 981.4 L1899 975.1 L1903.3 968.6 L1907.3 961.6 L1911.2 954.3 L1914.8 946.5 L1918.1 938.2 L1921.5 926.8 L1924.3 914.6 L1926.6 901.6 L1928.7 888.1 L1931 874.1 L1933.7 859.9 L1937.5 842.2 L1941.8 823.9 L1946.2 804.9 L1950.6 785.3 L1955 765 L1959 743.8 L1963.8 716.4 L1968.4 687.9 L1972.9 658.2 L1977.1 627.4 L1981 595.6 L1984.4 562.9 L1987.8 522 L1990.4 479.6 L1992.5 435.7 L1994.3 390.4 L1996.1 343.7 L1998 295.6 L2000.4 235.8 L2002.6 173.9 L2004.6 110 L2006.7 44.2 L2009.1 -23.6 L2011.7 -93.2 L2015.4 -178.7 L2019.5 -266.9 L2023.9 -357.8 L2028.4 -451.4 L2032.9 -547.7 L2037.1 -646.7 L2041.6 -768.1 L2045.8 -893.2 L2050 -1022.2 L2054.3 -1155.1 L2059 -1291.8 L2064.4 -1432.4 L2071.9 -1608 L2080.3 -1792 L2089.4 -1981.5 L2098.7 -2173.8 L2108 -2366.1 L2117.1 -2555.6" fill="none" stroke="#ff00ff" stroke-width="5.4" stroke-linejoin="round" stroke-linecap="round"/>
<path d="M806.7 1239.6L827.2 1239.6L816.9 1257.1Z" fill="#fff" stroke="#0000ff" stroke-width="1.8"/>
<path d="M806.7 1234.8L827.2 1234.8L816.9 1252.3Z" fill="#fff" stroke="#0000ff" stroke-width="1.8"/>
<path d="M806.9 1229.4L827.4 1229.4L817.1 1246.9Z" fill="#fff" stroke="#0000ff" stroke-width="1.8"/>
<path d="M807 1223.4L827.5 1223.4L817.3 1240.9Z" fill="#fff" stroke="#0000ff" stroke-width="1.8"/>
<path d="M807.4 1217.2L827.9 1217.2L817.7 1234.7Z" fill="#fff" stroke="#0000ff" stroke-width="1.8"/>
<path d="M807.8 1211L828.3 1211L818.1 1228.5Z" fill="#fff" stroke="#0000ff" stroke-width="1.8"/>
<path d="M808.6 1204L829.1 1204L818.9 1221.5Z" fill="#fff" stroke="#0000ff" stroke-width="1.8"/>
<path d="M810.4 1195.3L830.9 1195.3L820.6 1212.8Z" fill="#fff" stroke="#0000ff" stroke-width="1.8"/>
<path d="M813.5 1184.3L834 1184.3L823.7 1201.8Z" fill="#fff" stroke="#0000ff" stroke-width="1.8"/>
<path d="M819.1 1168.9L839.6 1168.9L829.4 1186.4Z" fill="#fff" stroke="#0000ff" stroke-width="1.8"/>
<path d="M826.2 1148.1L846.7 1148.1L836.4 1165.6Z" fill="#fff" stroke="#0000ff" stroke-width="1.8"/>
<path d="M836.5 1118.9L857 1118.9L846.8 1136.4Z" fill="#fff" stroke="#0000ff" stroke-width="1.8"/>
<path d="M851.3 1082.5L871.8 1082.5L861.6 1100Z" fill="#fff" stroke="#0000ff" stroke-width="1.8"/>
<path d="M874.7 1037.7L895.2 1037.7L885 1055.2Z" fill="#fff" stroke="#0000ff" stroke-width="1.8"/>
<path d="M911.4 987.2L931.9 987.2L921.7 1004.7Z" fill="#fff" stroke="#0000ff" stroke-width="1.8"/>
<path d="M963.5 936.7L984 936.7L973.8 954.2Z" fill="#fff" stroke="#0000ff" stroke-width="1.8"/>
<path d="M1030.4 896.2L1050.9 896.2L1040.7 913.7Z" fill="#fff" stroke="#0000ff" stroke-width="1.8"/>
<path d="M1108.3 876.5L1128.8 876.5L1118.5 894Z" fill="#fff" stroke="#0000ff" stroke-width="1.8"/>
<path d="M1185.7 878.1L1206.2 878.1L1196 895.6Z" fill="#fff" stroke="#0000ff" stroke-width="1.8"/>
<path d="M1256.6 895.6L1277.1 895.6L1266.8 913.1Z" fill="#fff" stroke="#0000ff" stroke-width="1.8"/>
<path d="M1316.8 923.7L1337.3 923.7L1327.1 941.2Z" fill="#fff" stroke="#0000ff" stroke-width="1.8"/>
<path d="M1371.7 950.2L1392.2 950.2L1381.9 967.7Z" fill="#fff" stroke="#0000ff" stroke-width="1.8"/>
<path d="M1419.9 979.9L1440.4 979.9L1430.1 997.4Z" fill="#fff" stroke="#0000ff" stroke-width="1.8"/>
<path d="M1456.7 998.8L1477.2 998.8L1467 1016.3Z" fill="#fff" stroke="#0000ff" stroke-width="1.8"/>
<path d="M1490.1 1010.4L1510.6 1010.4L1500.3 1027.9Z" fill="#fff" stroke="#0000ff" stroke-width="1.8"/>
<path d="M1524.8 1020.7L1545.3 1020.7L1535.1 1038.2Z" fill="#fff" stroke="#0000ff" stroke-width="1.8"/>
<path d="M1558.2 1028.5L1578.7 1028.5L1568.4 1046Z" fill="#fff" stroke="#0000ff" stroke-width="1.8"/>
<path d="M1590.6 1038.2L1611.1 1038.2L1600.8 1055.7Z" fill="#fff" stroke="#0000ff" stroke-width="1.8"/>
<path d="M1623 1039.3L1643.5 1039.3L1633.2 1056.8Z" fill="#fff" stroke="#0000ff" stroke-width="1.8"/>
<path d="M1654 1037.7L1674.5 1037.7L1664.2 1055.2Z" fill="#fff" stroke="#0000ff" stroke-width="1.8"/>
<path d="M1688.7 1037.7L1709.2 1037.7L1699 1055.2Z" fill="#fff" stroke="#0000ff" stroke-width="1.8"/>
<path d="M1724.4 1036.6L1744.9 1036.6L1734.7 1054.1Z" fill="#fff" stroke="#0000ff" stroke-width="1.8"/>
<path d="M1763.4 1034.7L1783.9 1034.7L1773.7 1052.2Z" fill="#fff" stroke="#0000ff" stroke-width="1.8"/>
<path d="M1798 1034.7L1818.5 1034.7L1808.2 1052.2Z" fill="#fff" stroke="#0000ff" stroke-width="1.8"/>
<path d="M1831.7 1018.8L1852.2 1018.8L1842 1036.3Z" fill="#fff" stroke="#0000ff" stroke-width="1.8"/>
<path d="M1859 1002.6L1879.5 1002.6L1869.3 1020.1Z" fill="#fff" stroke="#0000ff" stroke-width="1.8"/>
<path d="M1884.4 975.6L1904.9 975.6L1894.6 993.1Z" fill="#fff" stroke="#0000ff" stroke-width="1.8"/>
<path d="M1907.8 932.4L1928.3 932.4L1918.1 949.9Z" fill="#fff" stroke="#0000ff" stroke-width="1.8"/>
<path d="M1923.4 854.1L1943.9 854.1L1933.7 871.6Z" fill="#fff" stroke="#0000ff" stroke-width="1.8"/>
<path d="M1948.8 738L1969.3 738L1959 755.5Z" fill="#fff" stroke="#0000ff" stroke-width="1.8"/>
<path d="M1974.1 557.1L1994.6 557.1L1984.4 574.6Z" fill="#fff" stroke="#0000ff" stroke-width="1.8"/>
<path d="M1987.8 289.8L2008.3 289.8L1998 307.3Z" fill="#fff" stroke="#0000ff" stroke-width="1.8"/>
<path d="M2001.5 -99L2022 -99L2011.7 -81.5Z" fill="#fff" stroke="#0000ff" stroke-width="1.8"/>
<path d="M2026.8 -652.5L2047.3 -652.5L2037.1 -635Z" fill="#fff" stroke="#0000ff" stroke-width="1.8"/>
<path d="M2054.1 -1438.2L2074.6 -1438.2L2064.4 -1420.7Z" fill="#fff" stroke="#0000ff" stroke-width="1.8"/>
<path d="M2106.8 -2561.4L2127.3 -2561.4L2117.1 -2543.9Z" fill="#fff" stroke="#0000ff" stroke-width="1.8"/>
<path d="M826.3 1240.6 L826.4 1236.8 L826.7 1233 L827 1229 L827.4 1224.9 L828 1221.1 L828.8 1217.4 L829.7 1213.8 L830.8 1210.4 L831.9 1207.2 L833.3 1204.2 L835.1 1200.9 L837 1197.4 L838.6 1194.3 L840.2 1190.9 L841.9 1187.1 L843.1 1184.3 L844.3 1181.2 L845.6 1177.9 L847 1174.5 L848.5 1171.2 L850.1 1168 L851.9 1164.8 L853.9 1161.6 L855.9 1158.5 L858.1 1155.4 L860.3 1152.3 L862.6 1149.1 L865.1 1145.5 L867.6 1141.8 L870.3 1138 L873 1134.3 L875.8 1130.6 L878.6 1126.9 L881.4 1123.3 L884.2 1119.6 L887 1116 L890 1112.4 L893.2 1108.9 L896.7 1105.6 L901 1102 L905.7 1098.6 L910.6 1095.3 L915.7 1092.2 L920.9 1089.1 L926 1086.2 L931 1083.4 L936.2 1080.7 L941.4 1078.2 L946.6 1075.8 L951.9 1073.4 L957.2 1071 L962.4 1068.7 L967.6 1066.4 L972.8 1064.1 L978.1 1062 L983.5 1059.9 L989 1058.1 L994.9 1056.4 L1000.9 1054.8 L1007.1 1053.5 L1013.2 1052.2 L1019.4 1050.9 L1025.5 1049.7 L1031.3 1048.5 L1037.1 1047.2 L1042.8 1046 L1048.6 1044.9 L1054.5 1044 L1060.4 1043.2 L1066.7 1042.7 L1073.1 1042.3 L1079.6 1042 L1086.1 1042 L1092.6 1042 L1099 1042.2 L1105.2 1042.4 L1111.3 1042.7 L1117.4 1043.1 L1123.5 1043.7 L1129.6 1044.4 L1135.7 1045.4 L1142 1046.5 L1148.4 1047.9 L1154.8 1049.3 L1161.1 1051 L1167.3 1053 L1173.4 1055.1 L1179.2 1057.6 L1184.8 1060.5 L1190.4 1063.6 L1195.9 1066.8 L1201.3 1069.8 L1206.7 1072.4 L1211.5 1074.4 L1216.2 1076.2 L1220.9 1077.9 L1225.6 1079.5 L1230.1 1081.2 L1234.6 1082.9 L1238.7 1084.6 L1242.7 1086.4 L1246.7 1088.2 L1250.6 1090 L1254.4 1091.8 L1258.2 1093.7 L1261.7 1095.7 L1265.2 1097.7 L1268.5 1099.8 L1271.9 1101.9 L1275.3 1103.8 L1278.7 1105.6 L1282.1 1107.1 L1285.5 1108.4 L1288.9 1109.7 L1292.3 1110.8 L1295.7 1112 L1299 1113.2 L1302.1 1114.4 L1305.2 1115.6 L1308.2 1116.9 L1311.2 1118 L1314.3 1118.9 L1317.3 1119.6 L1320.4 1120 L1323.4 1120.2 L1326.5 1120.2 L1329.6 1120 L1332.7 1119.8 L1335.7 1119.6 L1339.2 1119.4 L1342.6 1119.1 L1346 1118.7 L1349.4 1118.2 L1352.8 1117.5 L1355.9 1116.7 L1359 1115.8 L1362 1114.8 L1365.1 1113.7 L1368.2 1112.4 L1371.2 1111 L1374.4 1109.2 L1377.6 1107.2 L1380.7 1105 L1383.9 1102.7 L1387.1 1100.4 L1390.5 1098 L1394.5 1095.4 L1398.6 1092.7 L1402.8 1090 L1407.1 1087.1 L1411.4 1084.2 L1415.7 1081 L1420.5 1077.4 L1425.4 1073.6 L1430.4 1069.6 L1435.3 1065.5 L1440.1 1061.2 L1444.7 1056.7 L1449.4 1051.9 L1453.9 1047 L1458.3 1041.9 L1462.7 1036.6 L1467.1 1031.1 L1471.5 1025.4 L1476.4 1018.7 L1481.4 1011.6 L1486.3 1004.4 L1491.2 996.9 L1496.3 989.4 L1501.5 981.9 L1507.4 973.8 L1513.5 965.6 L1519.7 957.3 L1526 948.9 L1532.4 940.4 L1538.8 931.7 L1545.7 922.4 L1552.8 913 L1559.9 903.5 L1567 893.9 L1574 883.9 L1580.7 873.7 L1587.7 862.4 L1594.5 850.8 L1601.2 839 L1607.7 826.8 L1614.1 814.3 L1620.3 801.3 L1627.3 786.3 L1634.2 770.8 L1640.9 754.9 L1647.4 738.4 L1653.7 721.4 L1659.5 703.6 L1666.1 681.5 L1672.4 658.6 L1678.2 634.9 L1683.6 610.1 L1688.6 584.5 L1693.1 557.8 L1697.9 523.2 L1701.9 487 L1705.1 449.3 L1708 410.2 L1710.6 369.8 L1713.2 328 L1716.2 274.5 L1718.8 218.7 L1721 160.8 L1723 101.1 L1724.9 39.7 L1726.9 -23 L1729 -98.6 L1730.9 -176.3 L1732.6 -256.2 L1734.3 -338.6 L1736.3 -423.7 L1738.6 -511.7 L1741.8 -623.2 L1745.4 -738.8 L1749.2 -858.5 L1753.3 -982.1 L1757.5 -1109.5 L1762 -1240.7 L1767.7 -1406.7 L1773.9 -1581.2 L1780.3 -1761.3 L1786.9 -1944.2 L1793.6 -2127.1 L1800 -2307.2" fill="none" stroke="#008000" stroke-width="5.4" stroke-linejoin="round" stroke-linecap="round"/>
<path d="M826.3 1229.6L837.3 1240.6L826.3 1251.6L815.3 1240.6Z" fill="#fff" stroke="#00ffff" stroke-width="1.8"/>
<path d="M826.7 1222L837.7 1233L826.7 1244L815.7 1233Z" fill="#fff" stroke="#00ffff" stroke-width="1.8"/>
<path d="M827.4 1213.9L838.4 1224.9L827.4 1235.9L816.4 1224.9Z" fill="#fff" stroke="#00ffff" stroke-width="1.8"/>
<path d="M828.8 1206.4L839.8 1217.4L828.8 1228.4L817.8 1217.4Z" fill="#fff" stroke="#00ffff" stroke-width="1.8"/>
<path d="M830.8 1199.4L841.8 1210.4L830.8 1221.4L819.8 1210.4Z" fill="#fff" stroke="#00ffff" stroke-width="1.8"/>
<path d="M833.3 1193.2L844.3 1204.2L833.3 1215.2L822.3 1204.2Z" fill="#fff" stroke="#00ffff" stroke-width="1.8"/>
<path d="M837 1186.4L848 1197.4L837 1208.4L826 1197.4Z" fill="#fff" stroke="#00ffff" stroke-width="1.8"/>
<path d="M841.9 1176.1L852.9 1187.1L841.9 1198.1L830.9 1187.1Z" fill="#fff" stroke="#00ffff" stroke-width="1.8"/>
<path d="M850.1 1157L861.1 1168L850.1 1179L839.1 1168Z" fill="#fff" stroke="#00ffff" stroke-width="1.8"/>
<path d="M862.6 1138.1L873.6 1149.1L862.6 1160.1L851.6 1149.1Z" fill="#fff" stroke="#00ffff" stroke-width="1.8"/>
<path d="M878.6 1115.9L889.6 1126.9L878.6 1137.9L867.6 1126.9Z" fill="#fff" stroke="#00ffff" stroke-width="1.8"/>
<path d="M896.7 1094.6L907.7 1105.6L896.7 1116.6L885.7 1105.6Z" fill="#fff" stroke="#00ffff" stroke-width="1.8"/>
<path d="M926 1075.2L937 1086.2L926 1097.2L915 1086.2Z" fill="#fff" stroke="#00ffff" stroke-width="1.8"/>
<path d="M957.2 1060L968.2 1071L957.2 1082L946.2 1071Z" fill="#fff" stroke="#00ffff" stroke-width="1.8"/>
<path d="M989 1047.1L1000 1058.1L989 1069.1L978 1058.1Z" fill="#fff" stroke="#00ffff" stroke-width="1.8"/>
<path d="M1025.5 1038.7L1036.5 1049.7L1025.5 1060.7L1014.5 1049.7Z" fill="#fff" stroke="#00ffff" stroke-width="1.8"/>
<path d="M1060.4 1032.2L1071.4 1043.2L1060.4 1054.2L1049.4 1043.2Z" fill="#fff" stroke="#00ffff" stroke-width="1.8"/>
<path d="M1099 1031.2L1110 1042.2L1099 1053.2L1088 1042.2Z" fill="#fff" stroke="#00ffff" stroke-width="1.8"/>
<path d="M1135.7 1034.4L1146.7 1045.4L1135.7 1056.4L1124.7 1045.4Z" fill="#fff" stroke="#00ffff" stroke-width="1.8"/>
<path d="M1173.4 1044.1L1184.4 1055.1L1173.4 1066.1L1162.4 1055.1Z" fill="#fff" stroke="#00ffff" stroke-width="1.8"/>
<path d="M1206.7 1061.4L1217.7 1072.4L1206.7 1083.4L1195.7 1072.4Z" fill="#fff" stroke="#00ffff" stroke-width="1.8"/>
<path d="M1234.6 1071.9L1245.6 1082.9L1234.6 1093.9L1223.6 1082.9Z" fill="#fff" stroke="#00ffff" stroke-width="1.8"/>
<path d="M1258.2 1082.7L1269.2 1093.7L1258.2 1104.7L1247.2 1093.7Z" fill="#fff" stroke="#00ffff" stroke-width="1.8"/>
<path d="M1278.7 1094.6L1289.7 1105.6L1278.7 1116.6L1267.7 1105.6Z" fill="#fff" stroke="#00ffff" stroke-width="1.8"/>
<path d="M1299 1102.2L1310 1113.2L1299 1124.2L1288 1113.2Z" fill="#fff" stroke="#00ffff" stroke-width="1.8"/>
<path d="M1317.3 1108.6L1328.3 1119.6L1317.3 1130.6L1306.3 1119.6Z" fill="#fff" stroke="#00ffff" stroke-width="1.8"/>
<path d="M1335.7 1108.6L1346.7 1119.6L1335.7 1130.6L1324.7 1119.6Z" fill="#fff" stroke="#00ffff" stroke-width="1.8"/>
<path d="M1352.8 1106.5L1363.8 1117.5L1352.8 1128.5L1341.8 1117.5Z" fill="#fff" stroke="#00ffff" stroke-width="1.8"/>
<path d="M1371.2 1100L1382.2 1111L1371.2 1122L1360.2 1111Z" fill="#fff" stroke="#00ffff" stroke-width="1.8"/>
<path d="M1390.5 1087L1401.5 1098L1390.5 1109L1379.5 1098Z" fill="#fff" stroke="#00ffff" stroke-width="1.8"/>
<path d="M1415.7 1070L1426.7 1081L1415.7 1092L1404.7 1081Z" fill="#fff" stroke="#00ffff" stroke-width="1.8"/>
<path d="M1444.7 1045.7L1455.7 1056.7L1444.7 1067.7L1433.7 1056.7Z" fill="#fff" stroke="#00ffff" stroke-width="1.8"/>
<path d="M1471.5 1014.4L1482.5 1025.4L1471.5 1036.4L1460.5 1025.4Z" fill="#fff" stroke="#00ffff" stroke-width="1.8"/>
<path d="M1501.5 970.9L1512.5 981.9L1501.5 992.9L1490.5 981.9Z" fill="#fff" stroke="#00ffff" stroke-width="1.8"/>
<path d="M1538.8 920.7L1549.8 931.7L1538.8 942.7L1527.8 931.7Z" fill="#fff" stroke="#00ffff" stroke-width="1.8"/>
<path d="M1580.7 862.7L1591.7 873.7L1580.7 884.7L1569.7 873.7Z" fill="#fff" stroke="#00ffff" stroke-width="1.8"/>
<path d="M1620.3 790.3L1631.3 801.3L1620.3 812.3L1609.3 801.3Z" fill="#fff" stroke="#00ffff" stroke-width="1.8"/>
<path d="M1659.5 692.6L1670.5 703.6L1659.5 714.6L1648.5 703.6Z" fill="#fff" stroke="#00ffff" stroke-width="1.8"/>
<path d="M1693.1 546.8L1704.1 557.8L1693.1 568.8L1682.1 557.8Z" fill="#fff" stroke="#00ffff" stroke-width="1.8"/>
<path d="M1713.2 317L1724.2 328L1713.2 339L1702.2 328Z" fill="#fff" stroke="#00ffff" stroke-width="1.8"/>
<path d="M1726.9 -34L1737.9 -23L1726.9 -12L1715.9 -23Z" fill="#fff" stroke="#00ffff" stroke-width="1.8"/>
<path d="M1738.6 -522.7L1749.6 -511.7L1738.6 -500.7L1727.6 -511.7Z" fill="#fff" stroke="#00ffff" stroke-width="1.8"/>
<path d="M1762 -1251.7L1773 -1240.7L1762 -1229.7L1751 -1240.7Z" fill="#fff" stroke="#00ffff" stroke-width="1.8"/>
<path d="M1800 -2318.2L1811 -2307.2L1800 -2296.2L1789 -2307.2Z" fill="#fff" stroke="#00ffff" stroke-width="1.8"/>
</g>
<line x1="741.4" y1="421" x2="741.4" y2="1288" stroke="#a8a8a8" stroke-width="2.2"/>
<line x1="740" y1="1287.2" x2="1815" y2="1287.2" stroke="#222" stroke-width="2.6"/>
<line x1="740" y1="422.2" x2="1815" y2="422.2" stroke="#404040" stroke-width="2.4"/>
<line x1="1814.2" y1="421" x2="1814.2" y2="1288" stroke="#808080" stroke-width="2.2"/>
<line x1="839.2" y1="1287" x2="839.2" y2="1278" stroke="#333" stroke-width="2.2"/>
<line x1="839.2" y1="422" x2="839.2" y2="431" stroke="#333" stroke-width="2.2"/>
<line x1="936.7" y1="1287" x2="936.7" y2="1269.5" stroke="#333" stroke-width="2.2"/>
<line x1="936.7" y1="422" x2="936.7" y2="439.5" stroke="#333" stroke-width="2.2"/>
<line x1="1034.2" y1="1287" x2="1034.2" y2="1278" stroke="#333" stroke-width="2.2"/>
<line x1="1034.2" y1="422" x2="1034.2" y2="431" stroke="#333" stroke-width="2.2"/>
<line x1="1131.8" y1="1287" x2="1131.8" y2="1269.5" stroke="#333" stroke-width="2.2"/>
<line x1="1131.8" y1="422" x2="1131.8" y2="439.5" stroke="#333" stroke-width="2.2"/>
<line x1="1229.4" y1="1287" x2="1229.4" y2="1278" stroke="#333" stroke-width="2.2"/>
<line x1="1229.4" y1="422" x2="1229.4" y2="431" stroke="#333" stroke-width="2.2"/>
<line x1="1326.9" y1="1287" x2="1326.9" y2="1269.5" stroke="#333" stroke-width="2.2"/>
<line x1="1326.9" y1="422" x2="1326.9" y2="439.5" stroke="#333" stroke-width="2.2"/>
<line x1="1424.5" y1="1287" x2="1424.5" y2="1278" stroke="#333" stroke-width="2.2"/>
<line x1="1424.5" y1="422" x2="1424.5" y2="431" stroke="#333" stroke-width="2.2"/>
<line x1="1522" y1="1287" x2="1522" y2="1269.5" stroke="#333" stroke-width="2.2"/>
<line x1="1522" y1="422" x2="1522" y2="439.5" stroke="#333" stroke-width="2.2"/>
<line x1="1619.6" y1="1287" x2="1619.6" y2="1278" stroke="#333" stroke-width="2.2"/>
<line x1="1619.6" y1="422" x2="1619.6" y2="431" stroke="#333" stroke-width="2.2"/>
<line x1="1717.1" y1="1287" x2="1717.1" y2="1269.5" stroke="#333" stroke-width="2.2"/>
<line x1="1717.1" y1="422" x2="1717.1" y2="439.5" stroke="#333" stroke-width="2.2"/>
<line x1="742" y1="1232.5" x2="759.5" y2="1232.5" stroke="#333" stroke-width="2.2"/>
<line x1="1814" y1="1232.5" x2="1796.5" y2="1232.5" stroke="#333" stroke-width="2.2"/>
<line x1="742" y1="1097.5" x2="751" y2="1097.5" stroke="#333" stroke-width="2.2"/>
<line x1="1814" y1="1097.5" x2="1805" y2="1097.5" stroke="#333" stroke-width="2.2"/>
<line x1="742" y1="962.5" x2="759.5" y2="962.5" stroke="#333" stroke-width="2.2"/>
<line x1="1814" y1="962.5" x2="1796.5" y2="962.5" stroke="#333" stroke-width="2.2"/>
<line x1="742" y1="827.5" x2="751" y2="827.5" stroke="#333" stroke-width="2.2"/>
<line x1="1814" y1="827.5" x2="1805" y2="827.5" stroke="#333" stroke-width="2.2"/>
<line x1="742" y1="692.5" x2="759.5" y2="692.5" stroke="#333" stroke-width="2.2"/>
<line x1="1814" y1="692.5" x2="1796.5" y2="692.5" stroke="#333" stroke-width="2.2"/>
<line x1="742" y1="557.5" x2="751" y2="557.5" stroke="#333" stroke-width="2.2"/>
<line x1="1814" y1="557.5" x2="1805" y2="557.5" stroke="#333" stroke-width="2.2"/>
<text x="741.6" y="1344" class="s" font-size="52" text-anchor="middle">0</text>
<text x="936.7" y="1344" class="s" font-size="52" text-anchor="middle">10</text>
<text x="1131.8" y="1344" class="s" font-size="52" text-anchor="middle">20</text>
<text x="1326.9" y="1344" class="s" font-size="52" text-anchor="middle">30</text>
<text x="1522" y="1344" class="s" font-size="52" text-anchor="middle">40</text>
<text x="1717.1" y="1344" class="s" font-size="52" text-anchor="middle">50</text>
<text x="724" y="1247.5" class="s" font-size="52" text-anchor="end">0</text>
<text x="724" y="977.5" class="s" font-size="52" text-anchor="end">10</text>
<text x="724" y="707.5" class="s" font-size="52" text-anchor="end">20</text>
<text x="724" y="437.5" class="s" font-size="52" text-anchor="end">30</text>
</svg>
</body></html>
